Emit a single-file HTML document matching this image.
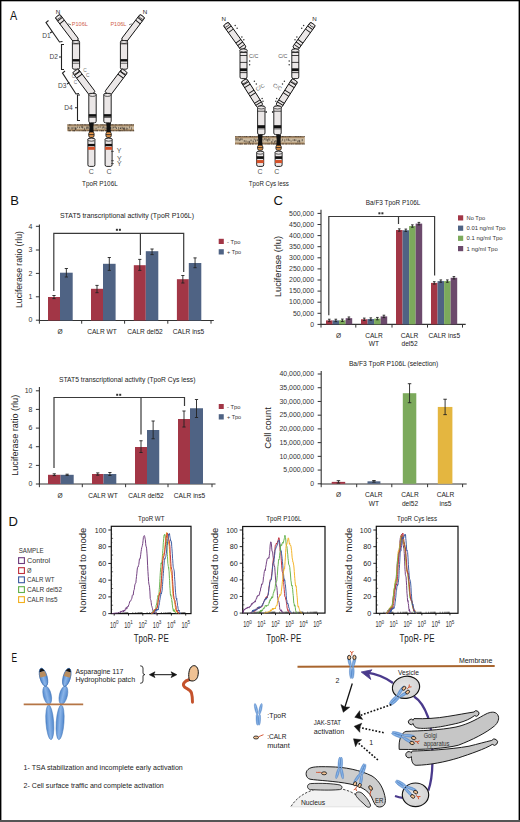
<!DOCTYPE html>
<html><head><meta charset="utf-8"><style>
html,body{margin:0;padding:0;background:#fff;width:520px;height:822px;overflow:hidden}
svg{display:block;font-family:"Liberation Sans",sans-serif}
</style></head><body>
<svg width="520" height="822" viewBox="0 0 520 822" font-family="Liberation Sans, sans-serif">
<rect width="520" height="822" fill="#fff"/>
<text x="10" y="19.8" font-size="13" text-anchor="start" fill="#111" textLength="7.2" lengthAdjust="spacingAndGlyphs" >A</text>
<text x="10.3" y="204.5" font-size="13" text-anchor="start" fill="#111" >B</text>
<text x="273.5" y="204.5" font-size="13" text-anchor="start" fill="#111" >C</text>
<text x="8.5" y="525.7" font-size="13" text-anchor="start" fill="#111" >D</text>
<text x="11.4" y="661.8" font-size="12.6" text-anchor="start" fill="#111" textLength="5.6" lengthAdjust="spacingAndGlyphs" >E</text>
<text x="60" y="217.6" font-size="7.6" text-anchor="start" fill="#222" textLength="134" lengthAdjust="spacingAndGlyphs" >STAT5 transcriptional activity (TpoR P106L)</text>
<line x1="39.4" y1="224.5" x2="39.4" y2="320.5" stroke="#333" stroke-width="1.1" />
<line x1="35.9" y1="320.2" x2="39.4" y2="320.2" stroke="#333" stroke-width="1" />
<text x="32.5" y="322.4" font-size="7" text-anchor="end" fill="#333" >0</text>
<line x1="35.9" y1="296.8" x2="39.4" y2="296.8" stroke="#333" stroke-width="1" />
<text x="32.5" y="299.0" font-size="7" text-anchor="end" fill="#333" >1</text>
<line x1="35.9" y1="273.4" x2="39.4" y2="273.4" stroke="#333" stroke-width="1" />
<text x="32.5" y="275.59999999999997" font-size="7" text-anchor="end" fill="#333" >2</text>
<line x1="35.9" y1="250" x2="39.4" y2="250" stroke="#333" stroke-width="1" />
<text x="32.5" y="252.2" font-size="7" text-anchor="end" fill="#333" >3</text>
<line x1="35.9" y1="226.3" x2="39.4" y2="226.3" stroke="#333" stroke-width="1" />
<text x="32.5" y="228.5" font-size="7" text-anchor="end" fill="#333" >4</text>
<line x1="38.8" y1="320.5" x2="213.8" y2="320.5" stroke="#333" stroke-width="1.1" />
<line x1="39.4" y1="320.5" x2="39.4" y2="323.7" stroke="#333" stroke-width="1" />
<line x1="81.7" y1="320.5" x2="81.7" y2="323.7" stroke="#333" stroke-width="1" />
<line x1="124.6" y1="320.5" x2="124.6" y2="323.7" stroke="#333" stroke-width="1" />
<line x1="167.8" y1="320.5" x2="167.8" y2="323.7" stroke="#333" stroke-width="1" />
<line x1="211" y1="320.5" x2="211" y2="323.7" stroke="#333" stroke-width="1" />
<rect x="48" y="297" width="12" height="23.5" fill="#a23646" />
<line x1="54.0" y1="295.5" x2="54.0" y2="298.6" stroke="#222" stroke-width="0.9" />
<line x1="52.4" y1="295.5" x2="55.6" y2="295.5" stroke="#222" stroke-width="0.9" />
<line x1="52.4" y1="298.6" x2="55.6" y2="298.6" stroke="#222" stroke-width="0.9" />
<rect x="60" y="272.7" width="12.700000000000003" height="47.80000000000001" fill="#4f6384" />
<line x1="66.35" y1="268.5" x2="66.35" y2="277" stroke="#222" stroke-width="0.9" />
<line x1="64.75" y1="268.5" x2="67.94999999999999" y2="268.5" stroke="#222" stroke-width="0.9" />
<line x1="64.75" y1="277" x2="67.94999999999999" y2="277" stroke="#222" stroke-width="0.9" />
<rect x="91" y="288.8" width="12" height="31.69999999999999" fill="#a23646" />
<line x1="97.0" y1="285.4" x2="97.0" y2="292.7" stroke="#222" stroke-width="0.9" />
<line x1="95.4" y1="285.4" x2="98.6" y2="285.4" stroke="#222" stroke-width="0.9" />
<line x1="95.4" y1="292.7" x2="98.6" y2="292.7" stroke="#222" stroke-width="0.9" />
<rect x="103" y="263.8" width="12.599999999999994" height="56.69999999999999" fill="#4f6384" />
<line x1="109.3" y1="257.5" x2="109.3" y2="270.4" stroke="#222" stroke-width="0.9" />
<line x1="107.7" y1="257.5" x2="110.89999999999999" y2="257.5" stroke="#222" stroke-width="0.9" />
<line x1="107.7" y1="270.4" x2="110.89999999999999" y2="270.4" stroke="#222" stroke-width="0.9" />
<rect x="133.8" y="265.2" width="12.0" height="55.30000000000001" fill="#a23646" />
<line x1="139.8" y1="259.4" x2="139.8" y2="270.4" stroke="#222" stroke-width="0.9" />
<line x1="138.20000000000002" y1="259.4" x2="141.4" y2="259.4" stroke="#222" stroke-width="0.9" />
<line x1="138.20000000000002" y1="270.4" x2="141.4" y2="270.4" stroke="#222" stroke-width="0.9" />
<rect x="145.8" y="251.2" width="12.5" height="69.30000000000001" fill="#4f6384" />
<line x1="152.05" y1="249" x2="152.05" y2="254.6" stroke="#222" stroke-width="0.9" />
<line x1="150.45000000000002" y1="249" x2="153.65" y2="249" stroke="#222" stroke-width="0.9" />
<line x1="150.45000000000002" y1="254.6" x2="153.65" y2="254.6" stroke="#222" stroke-width="0.9" />
<rect x="176.9" y="279.2" width="11.900000000000006" height="41.30000000000001" fill="#a23646" />
<line x1="182.85000000000002" y1="275.5" x2="182.85000000000002" y2="283" stroke="#222" stroke-width="0.9" />
<line x1="181.25000000000003" y1="275.5" x2="184.45000000000002" y2="275.5" stroke="#222" stroke-width="0.9" />
<line x1="181.25000000000003" y1="283" x2="184.45000000000002" y2="283" stroke="#222" stroke-width="0.9" />
<rect x="188.8" y="263" width="12.5" height="57.5" fill="#4f6384" />
<line x1="195.05" y1="257.9" x2="195.05" y2="267.7" stroke="#222" stroke-width="0.9" />
<line x1="193.45000000000002" y1="257.9" x2="196.65" y2="257.9" stroke="#222" stroke-width="0.9" />
<line x1="193.45000000000002" y1="267.7" x2="196.65" y2="267.7" stroke="#222" stroke-width="0.9" />
<path d="M53.8 291 V233.3 H183.7 V272 M140.4 233.3 V255" fill="none" stroke="#3a3a3a" stroke-width="1.2"/>
<rect x="115.9" y="228.8" width="2" height="2" fill="#333" />
<rect x="118.9" y="228.8" width="2" height="2" fill="#333" />
<text x="60" y="333.5" font-size="6.6" text-anchor="middle" fill="#222" >Ø</text>
<text x="102" y="333.5" font-size="6.6" text-anchor="middle" fill="#222" >CALR WT</text>
<text x="145" y="333.5" font-size="6.6" text-anchor="middle" fill="#222" >CALR del52</text>
<text x="188.5" y="333.5" font-size="6.6" text-anchor="middle" fill="#222" >CALR ins5</text>
<rect x="218.7" y="238.8" width="5.1" height="5.2" fill="#a23646" />
<rect x="218.7" y="249.2" width="5.1" height="5.3" fill="#4f6384" />
<text x="227" y="243.9" font-size="6.2" text-anchor="start" fill="#333" textLength="13.4" lengthAdjust="spacingAndGlyphs" >- Tpo</text>
<text x="227" y="254.2" font-size="6.2" text-anchor="start" fill="#333" textLength="14.2" lengthAdjust="spacingAndGlyphs" >+ Tpo</text>
<text transform="translate(22.3,269.5) rotate(-90)" font-size="9" text-anchor="middle" fill="#222" textLength="77" lengthAdjust="spacingAndGlyphs">Luciferase ratio (rlu)</text>
<text x="59" y="382" font-size="7.6" text-anchor="start" fill="#222" textLength="136.5" lengthAdjust="spacingAndGlyphs" >STAT5 transcriptional activity (TpoR Cys less)</text>
<line x1="39.4" y1="387" x2="39.4" y2="484" stroke="#333" stroke-width="1.1" />
<line x1="35.9" y1="484" x2="39.4" y2="484" stroke="#333" stroke-width="1" />
<text x="32.5" y="486.2" font-size="7" text-anchor="end" fill="#333" >0</text>
<line x1="35.9" y1="465.4" x2="39.4" y2="465.4" stroke="#333" stroke-width="1" />
<text x="32.5" y="467.59999999999997" font-size="7" text-anchor="end" fill="#333" >2</text>
<line x1="35.9" y1="446.7" x2="39.4" y2="446.7" stroke="#333" stroke-width="1" />
<text x="32.5" y="448.9" font-size="7" text-anchor="end" fill="#333" >4</text>
<line x1="35.9" y1="428.1" x2="39.4" y2="428.1" stroke="#333" stroke-width="1" />
<text x="32.5" y="430.3" font-size="7" text-anchor="end" fill="#333" >6</text>
<line x1="35.9" y1="409.4" x2="39.4" y2="409.4" stroke="#333" stroke-width="1" />
<text x="32.5" y="411.59999999999997" font-size="7" text-anchor="end" fill="#333" >8</text>
<line x1="35.9" y1="390.8" x2="39.4" y2="390.8" stroke="#333" stroke-width="1" />
<text x="32.5" y="393.0" font-size="7" text-anchor="end" fill="#333" >10</text>
<line x1="38.8" y1="484" x2="215.5" y2="484" stroke="#333" stroke-width="1.1" />
<line x1="39.4" y1="484" x2="39.4" y2="487.2" stroke="#333" stroke-width="1" />
<line x1="82.3" y1="484" x2="82.3" y2="487.2" stroke="#333" stroke-width="1" />
<line x1="125.6" y1="484" x2="125.6" y2="487.2" stroke="#333" stroke-width="1" />
<line x1="168" y1="484" x2="168" y2="487.2" stroke="#333" stroke-width="1" />
<line x1="212" y1="484" x2="212" y2="487.2" stroke="#333" stroke-width="1" />
<rect x="48" y="474.8" width="12.600000000000001" height="9.199999999999989" fill="#a23646" />
<line x1="54.3" y1="473.8" x2="54.3" y2="475.6" stroke="#222" stroke-width="0.9" />
<line x1="52.699999999999996" y1="473.8" x2="55.9" y2="473.8" stroke="#222" stroke-width="0.9" />
<line x1="52.699999999999996" y1="475.6" x2="55.9" y2="475.6" stroke="#222" stroke-width="0.9" />
<rect x="60.6" y="474.8" width="13.100000000000001" height="9.199999999999989" fill="#4f6384" />
<line x1="67.15" y1="474.2" x2="67.15" y2="475.4" stroke="#222" stroke-width="0.9" />
<line x1="65.55000000000001" y1="474.2" x2="68.75" y2="474.2" stroke="#222" stroke-width="0.9" />
<line x1="65.55000000000001" y1="475.4" x2="68.75" y2="475.4" stroke="#222" stroke-width="0.9" />
<rect x="92" y="474" width="11.5" height="10" fill="#a23646" />
<line x1="97.75" y1="472.9" x2="97.75" y2="475.2" stroke="#222" stroke-width="0.9" />
<line x1="96.15" y1="472.9" x2="99.35" y2="472.9" stroke="#222" stroke-width="0.9" />
<line x1="96.15" y1="475.2" x2="99.35" y2="475.2" stroke="#222" stroke-width="0.9" />
<rect x="103.5" y="474" width="12.799999999999997" height="10" fill="#4f6384" />
<line x1="109.9" y1="472.5" x2="109.9" y2="475.5" stroke="#222" stroke-width="0.9" />
<line x1="108.30000000000001" y1="472.5" x2="111.5" y2="472.5" stroke="#222" stroke-width="0.9" />
<line x1="108.30000000000001" y1="475.5" x2="111.5" y2="475.5" stroke="#222" stroke-width="0.9" />
<rect x="135" y="447" width="12" height="37" fill="#a23646" />
<line x1="141.0" y1="440.75" x2="141.0" y2="452.5" stroke="#222" stroke-width="0.9" />
<line x1="139.4" y1="440.75" x2="142.6" y2="440.75" stroke="#222" stroke-width="0.9" />
<line x1="139.4" y1="452.5" x2="142.6" y2="452.5" stroke="#222" stroke-width="0.9" />
<rect x="147" y="430" width="12.25" height="54" fill="#4f6384" />
<line x1="153.125" y1="421" x2="153.125" y2="438.75" stroke="#222" stroke-width="0.9" />
<line x1="151.525" y1="421" x2="154.725" y2="421" stroke="#222" stroke-width="0.9" />
<line x1="151.525" y1="438.75" x2="154.725" y2="438.75" stroke="#222" stroke-width="0.9" />
<rect x="178" y="419" width="12" height="65" fill="#a23646" />
<line x1="184.0" y1="411" x2="184.0" y2="427" stroke="#222" stroke-width="0.9" />
<line x1="182.4" y1="411" x2="185.6" y2="411" stroke="#222" stroke-width="0.9" />
<line x1="182.4" y1="427" x2="185.6" y2="427" stroke="#222" stroke-width="0.9" />
<rect x="190" y="408.25" width="13" height="75.75" fill="#4f6384" />
<line x1="196.5" y1="399.5" x2="196.5" y2="417.5" stroke="#222" stroke-width="0.9" />
<line x1="194.9" y1="399.5" x2="198.1" y2="399.5" stroke="#222" stroke-width="0.9" />
<line x1="194.9" y1="417.5" x2="198.1" y2="417.5" stroke="#222" stroke-width="0.9" />
<path d="M54 468 V397.5 H184.5 V406 M141 397.5 V434.5" fill="none" stroke="#3a3a3a" stroke-width="1.2"/>
<rect x="116.2" y="393.8" width="2" height="2" fill="#333" />
<rect x="119.2" y="393.8" width="2" height="2" fill="#333" />
<text x="60" y="497.5" font-size="6.6" text-anchor="middle" fill="#222" >Ø</text>
<text x="103" y="497.5" font-size="6.6" text-anchor="middle" fill="#222" >CALR WT</text>
<text x="146" y="497.5" font-size="6.6" text-anchor="middle" fill="#222" >CALR del52</text>
<text x="189.5" y="497.5" font-size="6.6" text-anchor="middle" fill="#222" >CALR ins5</text>
<rect x="218.75" y="404" width="5" height="5" fill="#a23646" />
<rect x="218.75" y="414.2" width="5" height="5.3" fill="#4f6384" />
<text x="227" y="409" font-size="6.2" text-anchor="start" fill="#333" textLength="13.4" lengthAdjust="spacingAndGlyphs" >- Tpo</text>
<text x="227" y="419.3" font-size="6.2" text-anchor="start" fill="#333" textLength="14.2" lengthAdjust="spacingAndGlyphs" >+ Tpo</text>
<text transform="translate(18.4,435.3) rotate(-90)" font-size="9.4" text-anchor="middle" fill="#222" textLength="81" lengthAdjust="spacingAndGlyphs">Luciferase ratio (rlu)</text>
<text x="365.8" y="204.5" font-size="6.8" text-anchor="start" fill="#222" textLength="54.6" lengthAdjust="spacingAndGlyphs" >Ba/F3 TpoR P106L</text>
<line x1="321" y1="209.8" x2="321" y2="324.4" stroke="#333" stroke-width="1.1" />
<line x1="317.5" y1="324.4" x2="321" y2="324.4" stroke="#333" stroke-width="1" />
<text x="314" y="326.59999999999997" font-size="6.9" text-anchor="end" fill="#333" >0</text>
<line x1="317.5" y1="313.29999999999995" x2="321" y2="313.29999999999995" stroke="#333" stroke-width="1" />
<text x="314" y="315.49999999999994" font-size="6.9" text-anchor="end" fill="#333" >50,000</text>
<line x1="317.5" y1="302.2" x2="321" y2="302.2" stroke="#333" stroke-width="1" />
<text x="314" y="304.4" font-size="6.9" text-anchor="end" fill="#333" >100,000</text>
<line x1="317.5" y1="291.09999999999997" x2="321" y2="291.09999999999997" stroke="#333" stroke-width="1" />
<text x="314" y="293.29999999999995" font-size="6.9" text-anchor="end" fill="#333" >150,000</text>
<line x1="317.5" y1="280.0" x2="321" y2="280.0" stroke="#333" stroke-width="1" />
<text x="314" y="282.2" font-size="6.9" text-anchor="end" fill="#333" >200,000</text>
<line x1="317.5" y1="268.9" x2="321" y2="268.9" stroke="#333" stroke-width="1" />
<text x="314" y="271.09999999999997" font-size="6.9" text-anchor="end" fill="#333" >250,000</text>
<line x1="317.5" y1="257.79999999999995" x2="321" y2="257.79999999999995" stroke="#333" stroke-width="1" />
<text x="314" y="259.99999999999994" font-size="6.9" text-anchor="end" fill="#333" >300,000</text>
<line x1="317.5" y1="246.7" x2="321" y2="246.7" stroke="#333" stroke-width="1" />
<text x="314" y="248.89999999999998" font-size="6.9" text-anchor="end" fill="#333" >350,000</text>
<line x1="317.5" y1="235.59999999999997" x2="321" y2="235.59999999999997" stroke="#333" stroke-width="1" />
<text x="314" y="237.79999999999995" font-size="6.9" text-anchor="end" fill="#333" >400,000</text>
<line x1="317.5" y1="224.49999999999997" x2="321" y2="224.49999999999997" stroke="#333" stroke-width="1" />
<text x="314" y="226.69999999999996" font-size="6.9" text-anchor="end" fill="#333" >450,000</text>
<line x1="317.5" y1="213.39999999999998" x2="321" y2="213.39999999999998" stroke="#333" stroke-width="1" />
<text x="314" y="215.59999999999997" font-size="6.9" text-anchor="end" fill="#333" >500,000</text>
<line x1="320.5" y1="324.4" x2="465.7" y2="324.4" stroke="#333" stroke-width="1.1" />
<line x1="321" y1="324.4" x2="321" y2="327.59999999999997" stroke="#333" stroke-width="1" />
<line x1="355.8" y1="324.4" x2="355.8" y2="327.59999999999997" stroke="#333" stroke-width="1" />
<line x1="392" y1="324.4" x2="392" y2="327.59999999999997" stroke="#333" stroke-width="1" />
<line x1="427.5" y1="324.4" x2="427.5" y2="327.59999999999997" stroke="#333" stroke-width="1" />
<line x1="462.5" y1="324.4" x2="462.5" y2="327.59999999999997" stroke="#333" stroke-width="1" />
<rect x="326.0" y="320.404" width="6.55" height="3.995999999999981" fill="#a23646" />
<line x1="329.27" y1="319.204" x2="329.27" y2="321.604" stroke="#222" stroke-width="0.9" />
<line x1="327.96999999999997" y1="319.204" x2="330.57" y2="319.204" stroke="#222" stroke-width="0.9" />
<line x1="327.96999999999997" y1="321.604" x2="330.57" y2="321.604" stroke="#222" stroke-width="0.9" />
<rect x="332.55" y="320.404" width="6.55" height="3.995999999999981" fill="#4f6384" />
<line x1="335.82" y1="319.204" x2="335.82" y2="321.604" stroke="#222" stroke-width="0.9" />
<line x1="334.52" y1="319.204" x2="337.12" y2="319.204" stroke="#222" stroke-width="0.9" />
<line x1="334.52" y1="321.604" x2="337.12" y2="321.604" stroke="#222" stroke-width="0.9" />
<rect x="339.1" y="320.29299999999995" width="6.55" height="4.107000000000028" fill="#7caa5c" />
<line x1="342.37" y1="319.09299999999996" x2="342.37" y2="321.49299999999994" stroke="#222" stroke-width="0.9" />
<line x1="341.07" y1="319.09299999999996" x2="343.67" y2="319.09299999999996" stroke="#222" stroke-width="0.9" />
<line x1="341.07" y1="321.49299999999994" x2="343.67" y2="321.49299999999994" stroke="#222" stroke-width="0.9" />
<rect x="345.65" y="318.18399999999997" width="6.55" height="6.216000000000008" fill="#6c4a6c" />
<line x1="348.91999999999996" y1="316.984" x2="348.91999999999996" y2="319.38399999999996" stroke="#222" stroke-width="0.9" />
<line x1="347.61999999999995" y1="316.984" x2="350.21999999999997" y2="316.984" stroke="#222" stroke-width="0.9" />
<line x1="347.61999999999995" y1="319.38399999999996" x2="350.21999999999997" y2="319.38399999999996" stroke="#222" stroke-width="0.9" />
<rect x="361.0" y="319.294" width="6.55" height="5.1059999999999945" fill="#a23646" />
<line x1="364.27" y1="318.094" x2="364.27" y2="320.49399999999997" stroke="#222" stroke-width="0.9" />
<line x1="362.96999999999997" y1="318.094" x2="365.57" y2="318.094" stroke="#222" stroke-width="0.9" />
<line x1="362.96999999999997" y1="320.49399999999997" x2="365.57" y2="320.49399999999997" stroke="#222" stroke-width="0.9" />
<rect x="367.55" y="319.072" width="6.55" height="5.3279999999999745" fill="#4f6384" />
<line x1="370.82" y1="317.872" x2="370.82" y2="320.272" stroke="#222" stroke-width="0.9" />
<line x1="369.52" y1="317.872" x2="372.12" y2="317.872" stroke="#222" stroke-width="0.9" />
<line x1="369.52" y1="320.272" x2="372.12" y2="320.272" stroke="#222" stroke-width="0.9" />
<rect x="374.1" y="318.628" width="6.55" height="5.771999999999991" fill="#7caa5c" />
<line x1="377.37" y1="317.428" x2="377.37" y2="319.828" stroke="#222" stroke-width="0.9" />
<line x1="376.07" y1="317.428" x2="378.67" y2="317.428" stroke="#222" stroke-width="0.9" />
<line x1="376.07" y1="319.828" x2="378.67" y2="319.828" stroke="#222" stroke-width="0.9" />
<rect x="380.65" y="316.40799999999996" width="6.55" height="7.992000000000019" fill="#6c4a6c" />
<line x1="383.91999999999996" y1="315.20799999999997" x2="383.91999999999996" y2="317.60799999999995" stroke="#222" stroke-width="0.9" />
<line x1="382.61999999999995" y1="315.20799999999997" x2="385.21999999999997" y2="315.20799999999997" stroke="#222" stroke-width="0.9" />
<line x1="382.61999999999995" y1="317.60799999999995" x2="385.21999999999997" y2="317.60799999999995" stroke="#222" stroke-width="0.9" />
<rect x="396.0" y="230.04999999999998" width="6.55" height="94.35" fill="#a23646" />
<line x1="399.27" y1="228.85" x2="399.27" y2="231.24999999999997" stroke="#222" stroke-width="0.9" />
<line x1="397.96999999999997" y1="228.85" x2="400.57" y2="228.85" stroke="#222" stroke-width="0.9" />
<line x1="397.96999999999997" y1="231.24999999999997" x2="400.57" y2="231.24999999999997" stroke="#222" stroke-width="0.9" />
<rect x="402.55" y="230.272" width="6.55" height="94.12799999999999" fill="#4f6384" />
<line x1="405.82" y1="229.072" x2="405.82" y2="231.47199999999998" stroke="#222" stroke-width="0.9" />
<line x1="404.52" y1="229.072" x2="407.12" y2="229.072" stroke="#222" stroke-width="0.9" />
<line x1="404.52" y1="231.47199999999998" x2="407.12" y2="231.47199999999998" stroke="#222" stroke-width="0.9" />
<rect x="409.1" y="226.05399999999997" width="6.55" height="98.346" fill="#7caa5c" />
<line x1="412.37" y1="224.85399999999998" x2="412.37" y2="227.25399999999996" stroke="#222" stroke-width="0.9" />
<line x1="411.07" y1="224.85399999999998" x2="413.67" y2="224.85399999999998" stroke="#222" stroke-width="0.9" />
<line x1="411.07" y1="227.25399999999996" x2="413.67" y2="227.25399999999996" stroke="#222" stroke-width="0.9" />
<rect x="415.65" y="223.61199999999997" width="6.55" height="100.78800000000001" fill="#6c4a6c" />
<line x1="418.91999999999996" y1="222.40254399999998" x2="418.91999999999996" y2="224.82145599999996" stroke="#222" stroke-width="0.9" />
<line x1="417.61999999999995" y1="222.40254399999998" x2="420.21999999999997" y2="222.40254399999998" stroke="#222" stroke-width="0.9" />
<line x1="417.61999999999995" y1="224.82145599999996" x2="420.21999999999997" y2="224.82145599999996" stroke="#222" stroke-width="0.9" />
<rect x="431.0" y="282.88599999999997" width="6.55" height="41.51400000000001" fill="#a23646" />
<line x1="434.27" y1="281.686" x2="434.27" y2="284.08599999999996" stroke="#222" stroke-width="0.9" />
<line x1="432.96999999999997" y1="281.686" x2="435.57" y2="281.686" stroke="#222" stroke-width="0.9" />
<line x1="432.96999999999997" y1="284.08599999999996" x2="435.57" y2="284.08599999999996" stroke="#222" stroke-width="0.9" />
<rect x="437.55" y="281.10999999999996" width="6.55" height="43.29000000000002" fill="#4f6384" />
<line x1="440.82" y1="279.90999999999997" x2="440.82" y2="282.30999999999995" stroke="#222" stroke-width="0.9" />
<line x1="439.52" y1="279.90999999999997" x2="442.12" y2="279.90999999999997" stroke="#222" stroke-width="0.9" />
<line x1="439.52" y1="282.30999999999995" x2="442.12" y2="282.30999999999995" stroke="#222" stroke-width="0.9" />
<rect x="444.1" y="281.10999999999996" width="6.55" height="43.29000000000002" fill="#7caa5c" />
<line x1="447.37" y1="279.90999999999997" x2="447.37" y2="282.30999999999995" stroke="#222" stroke-width="0.9" />
<line x1="446.07" y1="279.90999999999997" x2="448.67" y2="279.90999999999997" stroke="#222" stroke-width="0.9" />
<line x1="446.07" y1="282.30999999999995" x2="448.67" y2="282.30999999999995" stroke="#222" stroke-width="0.9" />
<rect x="450.65" y="277.78" width="6.55" height="46.620000000000005" fill="#6c4a6c" />
<line x1="453.91999999999996" y1="276.58" x2="453.91999999999996" y2="278.97999999999996" stroke="#222" stroke-width="0.9" />
<line x1="452.61999999999995" y1="276.58" x2="455.21999999999997" y2="276.58" stroke="#222" stroke-width="0.9" />
<line x1="452.61999999999995" y1="278.97999999999996" x2="455.21999999999997" y2="278.97999999999996" stroke="#222" stroke-width="0.9" />
<path d="M328.8 315.2 V216.5 H434.6 V275.6 M398.5 216.5 V224" fill="none" stroke="#3a3a3a" stroke-width="1.2"/>
<rect x="378.4" y="212.3" width="2" height="2" fill="#333" />
<rect x="381.4" y="212.3" width="2" height="2" fill="#333" />
<text x="338.5" y="338" font-size="6.6" text-anchor="middle" fill="#222" >Ø</text>
<text x="374" y="338" font-size="6.6" text-anchor="middle" fill="#222" >CALR</text>
<text x="374" y="346.3" font-size="6.6" text-anchor="middle" fill="#222" >WT</text>
<text x="409.6" y="338" font-size="6.6" text-anchor="middle" fill="#222" >CALR</text>
<text x="409.6" y="346.3" font-size="6.6" text-anchor="middle" fill="#222" >del52</text>
<text x="444.3" y="338" font-size="6.6" text-anchor="middle" fill="#222" >CALR ins5</text>
<rect x="458" y="215.3" width="5.2" height="5.2" fill="#a23646" />
<text x="466.6" y="220.0" font-size="6.1" text-anchor="start" fill="#333" textLength="18.5" lengthAdjust="spacingAndGlyphs" >No Tpo</text>
<rect x="458" y="225.6" width="5.2" height="5.2" fill="#4f6384" />
<text x="466.6" y="230.29999999999998" font-size="6.1" text-anchor="start" fill="#333" textLength="38.9" lengthAdjust="spacingAndGlyphs" >0.01 ng/ml Tpo</text>
<rect x="458" y="235.7" width="5.2" height="5.2" fill="#7caa5c" />
<text x="466.6" y="240.39999999999998" font-size="6.1" text-anchor="start" fill="#333" textLength="36" lengthAdjust="spacingAndGlyphs" >0.1 ng/ml Tpo</text>
<rect x="458" y="246" width="5.2" height="5.2" fill="#6c4a6c" />
<text x="466.6" y="250.7" font-size="6.1" text-anchor="start" fill="#333" textLength="31.1" lengthAdjust="spacingAndGlyphs" >1 ng/ml Tpo</text>
<text transform="translate(281.2,266.5) rotate(-90)" font-size="9" text-anchor="middle" fill="#222" textLength="61" lengthAdjust="spacingAndGlyphs">Luciferase (rlu)</text>
<text x="348.9" y="365.5" font-size="7.1" text-anchor="start" fill="#222" textLength="89.4" lengthAdjust="spacingAndGlyphs" >Ba/F3 TpoR P106L (selection)</text>
<line x1="321.2" y1="371" x2="321.2" y2="484" stroke="#333" stroke-width="1.1" />
<line x1="317.7" y1="483.8" x2="321.2" y2="483.8" stroke="#333" stroke-width="1" />
<text x="314" y="486.0" font-size="6.9" text-anchor="end" fill="#333" >0</text>
<line x1="317.7" y1="470.075" x2="321.2" y2="470.075" stroke="#333" stroke-width="1" />
<text x="314" y="472.275" font-size="6.9" text-anchor="end" fill="#333" >5,000,000</text>
<line x1="317.7" y1="456.35" x2="321.2" y2="456.35" stroke="#333" stroke-width="1" />
<text x="314" y="458.55" font-size="6.9" text-anchor="end" fill="#333" >10,000,000</text>
<line x1="317.7" y1="442.625" x2="321.2" y2="442.625" stroke="#333" stroke-width="1" />
<text x="314" y="444.825" font-size="6.9" text-anchor="end" fill="#333" >15,000,000</text>
<line x1="317.7" y1="428.90000000000003" x2="321.2" y2="428.90000000000003" stroke="#333" stroke-width="1" />
<text x="314" y="431.1" font-size="6.9" text-anchor="end" fill="#333" >20,000,000</text>
<line x1="317.7" y1="415.175" x2="321.2" y2="415.175" stroke="#333" stroke-width="1" />
<text x="314" y="417.375" font-size="6.9" text-anchor="end" fill="#333" >25,000,000</text>
<line x1="317.7" y1="401.45000000000005" x2="321.2" y2="401.45000000000005" stroke="#333" stroke-width="1" />
<text x="314" y="403.65000000000003" font-size="6.9" text-anchor="end" fill="#333" >30,000,000</text>
<line x1="317.7" y1="387.725" x2="321.2" y2="387.725" stroke="#333" stroke-width="1" />
<text x="314" y="389.925" font-size="6.9" text-anchor="end" fill="#333" >35,000,000</text>
<line x1="317.7" y1="374.0" x2="321.2" y2="374.0" stroke="#333" stroke-width="1" />
<text x="314" y="376.2" font-size="6.9" text-anchor="end" fill="#333" >40,000,000</text>
<line x1="320.7" y1="484" x2="466.7" y2="484" stroke="#333" stroke-width="1.1" />
<line x1="321.2" y1="484" x2="321.2" y2="487.2" stroke="#333" stroke-width="1" />
<line x1="356.7" y1="484" x2="356.7" y2="487.2" stroke="#333" stroke-width="1" />
<line x1="391.8" y1="484" x2="391.8" y2="487.2" stroke="#333" stroke-width="1" />
<line x1="427.6" y1="484" x2="427.6" y2="487.2" stroke="#333" stroke-width="1" />
<line x1="462.6" y1="484" x2="462.6" y2="487.2" stroke="#333" stroke-width="1" />
<rect x="331.7" y="481.87850000000003" width="13.5" height="1.9214999999999804" fill="#a23646" />
<line x1="338.45" y1="480.67850000000004" x2="338.45" y2="483.0785" stroke="#222" stroke-width="0.9" />
<line x1="336.7" y1="480.67850000000004" x2="340.2" y2="480.67850000000004" stroke="#222" stroke-width="0.9" />
<line x1="336.7" y1="483.0785" x2="340.2" y2="483.0785" stroke="#222" stroke-width="0.9" />
<rect x="367.5" y="481.3295" width="12.899999999999977" height="2.4705000000000155" fill="#4f6384" />
<line x1="373.95" y1="480.5295" x2="373.95" y2="482.1295" stroke="#222" stroke-width="0.9" />
<line x1="372.2" y1="480.5295" x2="375.7" y2="480.5295" stroke="#222" stroke-width="0.9" />
<line x1="372.2" y1="482.1295" x2="375.7" y2="482.1295" stroke="#222" stroke-width="0.9" />
<rect x="402.8" y="393.21500000000003" width="13.5" height="90.58499999999998" fill="#7caa5c" />
<line x1="409.55" y1="383.71500000000003" x2="409.55" y2="402.71500000000003" stroke="#222" stroke-width="0.9" />
<line x1="407.8" y1="383.71500000000003" x2="411.3" y2="383.71500000000003" stroke="#222" stroke-width="0.9" />
<line x1="407.8" y1="402.71500000000003" x2="411.3" y2="402.71500000000003" stroke="#222" stroke-width="0.9" />
<rect x="437.8" y="406.94" width="14.599999999999966" height="76.86000000000001" fill="#e4b640" />
<line x1="445.1" y1="399.24" x2="445.1" y2="414.64" stroke="#222" stroke-width="0.9" />
<line x1="443.35" y1="399.24" x2="446.85" y2="399.24" stroke="#222" stroke-width="0.9" />
<line x1="443.35" y1="414.64" x2="446.85" y2="414.64" stroke="#222" stroke-width="0.9" />
<text x="338.5" y="497.3" font-size="6.6" text-anchor="middle" fill="#222" >Ø</text>
<text x="373.8" y="497.3" font-size="6.6" text-anchor="middle" fill="#222" >CALR</text>
<text x="373.8" y="506.2" font-size="6.6" text-anchor="middle" fill="#222" >WT</text>
<text x="410" y="497.3" font-size="6.6" text-anchor="middle" fill="#222" >CALR</text>
<text x="410" y="506.2" font-size="6.6" text-anchor="middle" fill="#222" >del52</text>
<text x="445.5" y="497.3" font-size="6.6" text-anchor="middle" fill="#222" >CALR</text>
<text x="445.5" y="506.2" font-size="6.6" text-anchor="middle" fill="#222" >ins5</text>
<text transform="translate(271.3,428) rotate(-90)" font-size="9.8" text-anchor="middle" fill="#222" textLength="41.6" lengthAdjust="spacingAndGlyphs">Cell count</text>
<g transform="translate(57.50,16.00) rotate(52.77)"><rect x="0" y="-2.95" width="31.40" height="5.9" rx="1.6" fill="#ebe7e7" stroke="#000" stroke-width="0.85"/><ellipse cx="1.5" cy="0" rx="1.5" ry="2.95" fill="#ebe7e7" stroke="#111" stroke-width="0.7"/><rect x="3.63" y="-2.95" width="0.9" height="5.9" fill="#111"/><rect x="7.09" y="-2.95" width="0.9" height="5.9" fill="#111"/></g>
<g transform="translate(76.00,40.50) rotate(90.00)"><rect x="0" y="-3.6" width="28.70" height="7.2" rx="1.6" fill="#ebe7e7" stroke="#000" stroke-width="0.85"/><ellipse cx="1.5" cy="0" rx="1.5" ry="3.6" fill="#ebe7e7" stroke="#111" stroke-width="0.7"/><rect x="3.14" y="-3.6" width="0.6" height="7.2" fill="#111"/><rect x="18.60" y="-3.6" width="2.4" height="7.2" fill="#111"/><rect x="22.37" y="-3.6" width="0.6" height="7.2" fill="#111"/></g>
<g transform="translate(75.20,70.60) rotate(53.13)"><rect x="0" y="-3.4" width="29.00" height="6.8" rx="1.6" fill="#ebe7e7" stroke="#000" stroke-width="0.85"/><ellipse cx="1.5" cy="0" rx="1.5" ry="3.4" fill="#ebe7e7" stroke="#111" stroke-width="0.7"/><rect x="2.98" y="-3.4" width="1.0" height="6.8" fill="#111"/><rect x="6.46" y="-3.4" width="1.0" height="6.8" fill="#111"/></g>
<g transform="translate(92.50,93.40) rotate(90.00)"><rect x="0" y="-3.7" width="29.40" height="7.4" rx="1.6" fill="#ebe7e7" stroke="#000" stroke-width="0.85"/><ellipse cx="1.5" cy="0" rx="1.5" ry="3.7" fill="#ebe7e7" stroke="#111" stroke-width="0.7"/><rect x="20.75" y="-3.7" width="2.6" height="7.4" fill="#111"/><rect x="23.81" y="-3.7" width="0.6" height="7.4" fill="#111"/></g>
<g transform="translate(142.50,16.00) rotate(127.23)"><rect x="0" y="-2.95" width="31.40" height="5.9" rx="1.6" fill="#ebe7e7" stroke="#000" stroke-width="0.85"/><ellipse cx="1.5" cy="0" rx="1.5" ry="2.95" fill="#ebe7e7" stroke="#111" stroke-width="0.7"/><rect x="3.63" y="-2.95" width="0.9" height="5.9" fill="#111"/><rect x="7.09" y="-2.95" width="0.9" height="5.9" fill="#111"/></g>
<g transform="translate(124.00,40.50) rotate(90.00)"><rect x="0" y="-3.6" width="28.70" height="7.2" rx="1.6" fill="#ebe7e7" stroke="#000" stroke-width="0.85"/><ellipse cx="1.5" cy="0" rx="1.5" ry="3.6" fill="#ebe7e7" stroke="#111" stroke-width="0.7"/><rect x="3.14" y="-3.6" width="0.6" height="7.2" fill="#111"/><rect x="18.60" y="-3.6" width="2.4" height="7.2" fill="#111"/><rect x="22.37" y="-3.6" width="0.6" height="7.2" fill="#111"/></g>
<g transform="translate(124.80,70.60) rotate(126.87)"><rect x="0" y="-3.4" width="29.00" height="6.8" rx="1.6" fill="#ebe7e7" stroke="#000" stroke-width="0.85"/><ellipse cx="1.5" cy="0" rx="1.5" ry="3.4" fill="#ebe7e7" stroke="#111" stroke-width="0.7"/><rect x="2.98" y="-3.4" width="1.0" height="6.8" fill="#111"/><rect x="6.46" y="-3.4" width="1.0" height="6.8" fill="#111"/></g>
<g transform="translate(107.50,93.40) rotate(90.00)"><rect x="0" y="-3.7" width="29.40" height="7.4" rx="1.6" fill="#ebe7e7" stroke="#000" stroke-width="0.85"/><ellipse cx="1.5" cy="0" rx="1.5" ry="3.7" fill="#ebe7e7" stroke="#111" stroke-width="0.7"/><rect x="20.75" y="-3.7" width="2.6" height="7.4" fill="#111"/><rect x="23.81" y="-3.7" width="0.6" height="7.4" fill="#111"/></g>
<rect x="67.3" y="124.4" width="66.7" height="6.799999999999983" fill="#b0906a"/>
<rect x="67.3" y="126.4" width="66.7" height="2.799999999999983" fill="#cbbba2"/>
<rect x="67.6" y="124.4" width="0.9" height="0.9" fill="#2e2620" opacity="0.87"/><rect x="68.4" y="130.3" width="1.1" height="0.9" fill="#2e2620" opacity="0.93"/><rect x="68.9" y="124.4" width="1.3" height="0.9" fill="#2e2620" opacity="0.92"/><rect x="69.0" y="130.3" width="0.8" height="0.9" fill="#2e2620" opacity="0.66"/><rect x="69.9" y="124.4" width="1.2" height="0.9" fill="#2e2620" opacity="0.64"/><rect x="70.0" y="130.3" width="1.0" height="0.9" fill="#2e2620" opacity="0.74"/><rect x="71.4" y="124.4" width="0.8" height="0.9" fill="#2e2620" opacity="0.83"/><rect x="72.1" y="130.3" width="1.4" height="0.9" fill="#2e2620" opacity="0.66"/><rect x="72.5" y="124.4" width="1.1" height="0.9" fill="#2e2620" opacity="0.60"/><rect x="73.3" y="130.3" width="1.4" height="0.9" fill="#2e2620" opacity="0.88"/><rect x="73.9" y="124.4" width="1.6" height="0.9" fill="#2e2620" opacity="0.74"/><rect x="73.9" y="130.3" width="1.1" height="0.9" fill="#2e2620" opacity="0.75"/><rect x="75.4" y="124.4" width="0.8" height="0.9" fill="#2e2620" opacity="0.90"/><rect x="75.7" y="130.3" width="0.8" height="0.9" fill="#2e2620" opacity="0.81"/><rect x="76.9" y="124.4" width="1.3" height="0.9" fill="#2e2620" opacity="0.86"/><rect x="77.2" y="130.3" width="1.1" height="0.9" fill="#2e2620" opacity="0.61"/><rect x="78.4" y="124.4" width="1.3" height="0.9" fill="#2e2620" opacity="0.65"/><rect x="78.6" y="130.3" width="1.2" height="0.9" fill="#2e2620" opacity="0.84"/><rect x="80.0" y="124.4" width="1.1" height="0.9" fill="#2e2620" opacity="0.79"/><rect x="80.6" y="130.3" width="0.9" height="0.9" fill="#2e2620" opacity="0.94"/><rect x="81.2" y="124.4" width="1.6" height="0.9" fill="#2e2620" opacity="0.91"/><rect x="81.9" y="130.3" width="0.9" height="0.9" fill="#2e2620" opacity="0.76"/><rect x="82.5" y="124.4" width="1.1" height="0.9" fill="#2e2620" opacity="0.77"/><rect x="82.8" y="130.3" width="1.3" height="0.9" fill="#2e2620" opacity="0.85"/><rect x="83.9" y="124.4" width="1.4" height="0.9" fill="#2e2620" opacity="0.88"/><rect x="84.2" y="130.3" width="1.3" height="0.9" fill="#2e2620" opacity="0.87"/><rect x="85.0" y="124.4" width="1.3" height="0.9" fill="#2e2620" opacity="0.76"/><rect x="85.1" y="130.3" width="1.0" height="0.9" fill="#2e2620" opacity="0.87"/><rect x="86.4" y="124.4" width="1.2" height="0.9" fill="#2e2620" opacity="0.92"/><rect x="86.8" y="130.3" width="0.8" height="0.9" fill="#2e2620" opacity="0.83"/><rect x="87.7" y="124.4" width="1.4" height="0.9" fill="#2e2620" opacity="0.82"/><rect x="88.3" y="130.3" width="0.8" height="0.9" fill="#2e2620" opacity="0.84"/><rect x="88.8" y="124.4" width="0.9" height="0.9" fill="#2e2620" opacity="0.87"/><rect x="89.5" y="130.3" width="1.6" height="0.9" fill="#2e2620" opacity="0.72"/><rect x="90.4" y="124.4" width="1.3" height="0.9" fill="#2e2620" opacity="0.84"/><rect x="91.0" y="130.3" width="1.5" height="0.9" fill="#2e2620" opacity="0.62"/><rect x="91.8" y="124.4" width="1.3" height="0.9" fill="#2e2620" opacity="0.83"/><rect x="92.0" y="130.3" width="1.6" height="0.9" fill="#2e2620" opacity="0.67"/><rect x="93.2" y="124.4" width="1.0" height="0.9" fill="#2e2620" opacity="0.64"/><rect x="93.3" y="130.3" width="1.5" height="0.9" fill="#2e2620" opacity="0.61"/><rect x="94.4" y="124.4" width="1.4" height="0.9" fill="#2e2620" opacity="0.71"/><rect x="95.2" y="130.3" width="1.5" height="0.9" fill="#2e2620" opacity="0.76"/><rect x="95.8" y="124.4" width="1.5" height="0.9" fill="#2e2620" opacity="0.84"/><rect x="96.6" y="130.3" width="1.0" height="0.9" fill="#2e2620" opacity="0.80"/><rect x="97.0" y="124.4" width="0.8" height="0.9" fill="#2e2620" opacity="0.86"/><rect x="97.2" y="130.3" width="0.8" height="0.9" fill="#2e2620" opacity="0.80"/><rect x="98.4" y="124.4" width="0.9" height="0.9" fill="#2e2620" opacity="0.71"/><rect x="99.1" y="130.3" width="1.3" height="0.9" fill="#2e2620" opacity="0.62"/><rect x="99.9" y="124.4" width="1.0" height="0.9" fill="#2e2620" opacity="0.74"/><rect x="100.6" y="130.3" width="1.6" height="0.9" fill="#2e2620" opacity="0.62"/><rect x="100.9" y="124.4" width="1.3" height="0.9" fill="#2e2620" opacity="0.74"/><rect x="101.1" y="130.3" width="1.1" height="0.9" fill="#2e2620" opacity="0.93"/><rect x="102.0" y="124.4" width="1.3" height="0.9" fill="#2e2620" opacity="0.78"/><rect x="102.3" y="130.3" width="1.2" height="0.9" fill="#2e2620" opacity="0.82"/><rect x="103.1" y="124.4" width="1.3" height="0.9" fill="#2e2620" opacity="0.61"/><rect x="103.1" y="130.3" width="0.9" height="0.9" fill="#2e2620" opacity="0.72"/><rect x="104.3" y="124.4" width="1.2" height="0.9" fill="#2e2620" opacity="0.65"/><rect x="105.0" y="130.3" width="1.2" height="0.9" fill="#2e2620" opacity="0.91"/><rect x="105.7" y="124.4" width="1.0" height="0.9" fill="#2e2620" opacity="0.94"/><rect x="106.1" y="130.3" width="1.1" height="0.9" fill="#2e2620" opacity="0.81"/><rect x="107.0" y="124.4" width="1.4" height="0.9" fill="#2e2620" opacity="0.65"/><rect x="107.7" y="130.3" width="1.2" height="0.9" fill="#2e2620" opacity="0.77"/><rect x="108.0" y="124.4" width="1.0" height="0.9" fill="#2e2620" opacity="0.87"/><rect x="108.4" y="130.3" width="1.3" height="0.9" fill="#2e2620" opacity="0.82"/><rect x="109.2" y="124.4" width="0.8" height="0.9" fill="#2e2620" opacity="0.61"/><rect x="109.9" y="130.3" width="1.3" height="0.9" fill="#2e2620" opacity="0.90"/><rect x="110.7" y="124.4" width="1.3" height="0.9" fill="#2e2620" opacity="0.72"/><rect x="111.3" y="130.3" width="1.2" height="0.9" fill="#2e2620" opacity="0.79"/><rect x="111.9" y="124.4" width="1.4" height="0.9" fill="#2e2620" opacity="0.91"/><rect x="112.7" y="130.3" width="1.5" height="0.9" fill="#2e2620" opacity="0.62"/><rect x="113.3" y="124.4" width="1.1" height="0.9" fill="#2e2620" opacity="0.67"/><rect x="113.7" y="130.3" width="0.8" height="0.9" fill="#2e2620" opacity="0.62"/><rect x="114.7" y="124.4" width="1.5" height="0.9" fill="#2e2620" opacity="0.80"/><rect x="115.3" y="130.3" width="1.5" height="0.9" fill="#2e2620" opacity="0.65"/><rect x="115.8" y="124.4" width="1.2" height="0.9" fill="#2e2620" opacity="0.70"/><rect x="116.5" y="130.3" width="1.2" height="0.9" fill="#2e2620" opacity="0.70"/><rect x="117.4" y="124.4" width="1.0" height="0.9" fill="#2e2620" opacity="0.81"/><rect x="118.0" y="130.3" width="1.5" height="0.9" fill="#2e2620" opacity="0.64"/><rect x="118.6" y="124.4" width="1.6" height="0.9" fill="#2e2620" opacity="0.78"/><rect x="118.9" y="130.3" width="1.2" height="0.9" fill="#2e2620" opacity="0.80"/><rect x="119.9" y="124.4" width="1.0" height="0.9" fill="#2e2620" opacity="0.77"/><rect x="120.0" y="130.3" width="1.4" height="0.9" fill="#2e2620" opacity="0.87"/><rect x="121.0" y="124.4" width="1.0" height="0.9" fill="#2e2620" opacity="0.87"/><rect x="121.6" y="130.3" width="0.9" height="0.9" fill="#2e2620" opacity="0.82"/><rect x="122.3" y="124.4" width="0.8" height="0.9" fill="#2e2620" opacity="0.86"/><rect x="122.4" y="130.3" width="1.1" height="0.9" fill="#2e2620" opacity="0.67"/><rect x="123.7" y="124.4" width="1.1" height="0.9" fill="#2e2620" opacity="0.93"/><rect x="123.7" y="130.3" width="1.2" height="0.9" fill="#2e2620" opacity="0.84"/><rect x="124.7" y="124.4" width="1.3" height="0.9" fill="#2e2620" opacity="0.61"/><rect x="125.2" y="130.3" width="0.9" height="0.9" fill="#2e2620" opacity="0.64"/><rect x="126.1" y="124.4" width="1.5" height="0.9" fill="#2e2620" opacity="0.82"/><rect x="126.2" y="130.3" width="1.4" height="0.9" fill="#2e2620" opacity="0.63"/><rect x="127.6" y="124.4" width="1.0" height="0.9" fill="#2e2620" opacity="0.82"/><rect x="127.7" y="130.3" width="0.9" height="0.9" fill="#2e2620" opacity="0.79"/><rect x="129.0" y="124.4" width="1.2" height="0.9" fill="#2e2620" opacity="0.67"/><rect x="129.3" y="130.3" width="1.1" height="0.9" fill="#2e2620" opacity="0.75"/><rect x="130.1" y="124.4" width="1.5" height="0.9" fill="#2e2620" opacity="0.68"/><rect x="130.1" y="130.3" width="0.9" height="0.9" fill="#2e2620" opacity="0.70"/><rect x="131.2" y="124.4" width="1.2" height="0.9" fill="#2e2620" opacity="0.89"/><rect x="131.4" y="130.3" width="1.0" height="0.9" fill="#2e2620" opacity="0.88"/><rect x="132.7" y="124.4" width="1.2" height="0.9" fill="#2e2620" opacity="0.87"/><rect x="132.9" y="130.3" width="1.3" height="0.9" fill="#2e2620" opacity="0.83"/><rect x="67.8" y="126.9" width="1.1" height="2.5" fill="#3d352c" opacity="0.8"/><rect x="69.5" y="127.2" width="0.7" height="2.2" fill="#4a4036" opacity="0.8"/><rect x="71.4" y="127.2" width="1.3" height="2.2" fill="#4a4036" opacity="0.8"/><rect x="73.3" y="126.9" width="1.2" height="2.0" fill="#7a6a58" opacity="0.8"/><rect x="74.8" y="127.4" width="1.2" height="2.4" fill="#2f2a24" opacity="0.8"/><rect x="75.9" y="127.5" width="0.7" height="2.1" fill="#5b5044" opacity="0.8"/><rect x="77.1" y="126.5" width="0.6" height="1.5" fill="#2f2a24" opacity="0.8"/><rect x="79.2" y="126.7" width="0.9" height="1.5" fill="#3d352c" opacity="0.8"/><rect x="81.1" y="126.4" width="1.4" height="1.2" fill="#2f2a24" opacity="0.8"/><rect x="82.3" y="126.5" width="0.9" height="2.0" fill="#2f2a24" opacity="0.8"/><rect x="84.2" y="127.7" width="0.9" height="2.4" fill="#4a4036" opacity="0.8"/><rect x="86.2" y="126.6" width="1.4" height="2.6" fill="#4a4036" opacity="0.8"/><rect x="87.3" y="126.5" width="1.4" height="1.6" fill="#5b5044" opacity="0.8"/><rect x="88.4" y="127.7" width="0.9" height="1.3" fill="#5b5044" opacity="0.8"/><rect x="90.6" y="127.3" width="0.8" height="1.5" fill="#7a6a58" opacity="0.8"/><rect x="91.8" y="127.6" width="0.9" height="1.7" fill="#2f2a24" opacity="0.8"/><rect x="93.6" y="126.6" width="0.6" height="2.4" fill="#4a4036" opacity="0.8"/><rect x="95.6" y="127.6" width="0.9" height="1.7" fill="#2f2a24" opacity="0.8"/><rect x="97.7" y="126.6" width="0.7" height="1.6" fill="#2f2a24" opacity="0.8"/><rect x="98.7" y="126.3" width="0.7" height="1.3" fill="#4a4036" opacity="0.8"/><rect x="100.1" y="126.3" width="0.7" height="1.4" fill="#4a4036" opacity="0.8"/><rect x="101.9" y="126.7" width="0.8" height="2.0" fill="#4a4036" opacity="0.8"/><rect x="103.3" y="126.3" width="0.9" height="1.9" fill="#2f2a24" opacity="0.8"/><rect x="104.4" y="127.1" width="0.9" height="2.4" fill="#7a6a58" opacity="0.8"/><rect x="105.7" y="127.3" width="0.9" height="1.8" fill="#2f2a24" opacity="0.8"/><rect x="106.9" y="126.2" width="0.8" height="1.5" fill="#5b5044" opacity="0.8"/><rect x="108.3" y="127.3" width="1.2" height="2.4" fill="#7a6a58" opacity="0.8"/><rect x="109.8" y="127.0" width="1.4" height="2.2" fill="#2f2a24" opacity="0.8"/><rect x="111.8" y="126.7" width="0.8" height="2.4" fill="#7a6a58" opacity="0.8"/><rect x="112.9" y="126.7" width="1.2" height="1.7" fill="#5b5044" opacity="0.8"/><rect x="114.6" y="126.4" width="1.1" height="1.7" fill="#4a4036" opacity="0.8"/><rect x="115.9" y="127.4" width="1.0" height="1.5" fill="#2f2a24" opacity="0.8"/><rect x="118.0" y="127.0" width="0.6" height="2.6" fill="#2f2a24" opacity="0.8"/><rect x="119.8" y="127.5" width="1.3" height="1.5" fill="#2f2a24" opacity="0.8"/><rect x="121.6" y="126.8" width="1.1" height="2.1" fill="#4a4036" opacity="0.8"/><rect x="123.0" y="127.6" width="1.1" height="2.0" fill="#3d352c" opacity="0.8"/><rect x="124.0" y="127.5" width="1.1" height="2.3" fill="#4a4036" opacity="0.8"/><rect x="125.9" y="127.5" width="0.9" height="2.4" fill="#5b5044" opacity="0.8"/><rect x="127.4" y="127.8" width="0.7" height="1.7" fill="#3d352c" opacity="0.8"/><rect x="129.4" y="126.3" width="0.6" height="2.1" fill="#2f2a24" opacity="0.8"/><rect x="131.0" y="127.3" width="0.7" height="2.4" fill="#4a4036" opacity="0.8"/>
<path d="M89.0 123 H93.80000000000001 L93.30000000000001 127.5 L93.7 132.5 H89.10000000000001 L89.5 127.5 Z" fill="#111"/>
<rect x="88.7" y="132" width="5.4" height="5.400000000000006" rx="1.8" fill="#eb9a4c" stroke="#111" stroke-width="0.8"/>
<rect x="88.80000000000001" y="134.25" width="5.2" height="0.9" fill="#222" />
<g transform="translate(91.40,138.20) rotate(90.00)"><rect x="0" y="-3.5" width="28.20" height="7.0" rx="1.6" fill="#ebe7e7" stroke="#000" stroke-width="0.85"/><ellipse cx="1.5" cy="0" rx="1.5" ry="3.5" fill="#ebe7e7" stroke="#111" stroke-width="0.7"/><rect x="5.70" y="-3.5" width="2.3" height="7.0" fill="#111"/><rect x="8.70" y="-3.5" width="2.9" height="7.0" fill="#d4522a"/></g>
<path d="M106.19999999999999 123 H111.0 L110.5 127.5 L110.89999999999999 132.5 H106.3 L106.69999999999999 127.5 Z" fill="#111"/>
<rect x="105.89999999999999" y="132" width="5.4" height="5.400000000000006" rx="1.8" fill="#eb9a4c" stroke="#111" stroke-width="0.8"/>
<rect x="106.0" y="134.25" width="5.2" height="0.9" fill="#222" />
<g transform="translate(108.60,138.20) rotate(90.00)"><rect x="0" y="-3.5" width="28.20" height="7.0" rx="1.6" fill="#ebe7e7" stroke="#000" stroke-width="0.85"/><ellipse cx="1.5" cy="0" rx="1.5" ry="3.5" fill="#ebe7e7" stroke="#111" stroke-width="0.7"/><rect x="5.70" y="-3.5" width="2.3" height="7.0" fill="#111"/><rect x="8.70" y="-3.5" width="2.9" height="7.0" fill="#d4522a"/></g>
<text x="58" y="13.5" font-size="6.2" text-anchor="middle" fill="#222" >N</text>
<text x="145" y="13.5" font-size="6.2" text-anchor="middle" fill="#222" >N</text>
<text x="71.8" y="25.8" font-size="6.2" text-anchor="start" fill="#d0604a" textLength="16" lengthAdjust="spacingAndGlyphs" >P106L</text>
<text x="110.4" y="25.8" font-size="6.2" text-anchor="start" fill="#d0604a" textLength="16" lengthAdjust="spacingAndGlyphs" >P106L</text>
<line x1="68.2" y1="23.8" x2="71" y2="24.8" stroke="#333" stroke-width="0.6" />
<line x1="131.8" y1="23.8" x2="129" y2="24.8" stroke="#333" stroke-width="0.6" />
<path d="M48.5 20.5 L46 22.5 L59.5 42 L62.5 41.5 M52.5 31.5 L50 33" fill="none" stroke="#222" stroke-width="1.1"/>
<path d="M64 44.5 H61.5 V69.5 H64 M61.5 57 H59" fill="none" stroke="#222" stroke-width="1.1"/>
<path d="M65 71 L62.5 73 L76 94 L79 93.5 M69.5 82.5 L67 84" fill="none" stroke="#222" stroke-width="1.1"/>
<path d="M80 95 H77.5 V120.5 H80 M77.5 107.7 H75" fill="none" stroke="#222" stroke-width="1.1"/>
<text x="46.5" y="37.8" font-size="6.6" text-anchor="middle" fill="#444" >D1</text>
<text x="53.8" y="59" font-size="6.6" text-anchor="middle" fill="#444" >D2</text>
<text x="62.2" y="88" font-size="6.6" text-anchor="middle" fill="#444" >D3</text>
<text x="68.5" y="110" font-size="6.6" text-anchor="middle" fill="#444" >D4</text>
<text x="85" y="71.5" font-size="4.8" text-anchor="middle" fill="#777" >C</text>
<text x="87.7" y="77" font-size="4.8" text-anchor="middle" fill="#777" >C</text>
<text x="73.5" y="78" font-size="4.8" text-anchor="middle" fill="#777" >C</text>
<text x="75.6" y="83.5" font-size="4.8" text-anchor="middle" fill="#777" >C</text>
<text x="119" y="153.3" font-size="7.4" text-anchor="middle" fill="#555" textLength="4.6" lengthAdjust="spacingAndGlyphs" >Y</text>
<text x="119.4" y="161.3" font-size="7.4" text-anchor="middle" fill="#555" textLength="4.6" lengthAdjust="spacingAndGlyphs" >Y</text>
<text x="119.4" y="166.3" font-size="7.4" text-anchor="middle" fill="#555" textLength="4.6" lengthAdjust="spacingAndGlyphs" >Y</text>
<path d="M111.2 151.4 H113.8 M111.2 160.7 H113.8 M111.2 163.6 H113.8" fill="none" stroke="#333" stroke-width="0.8"/>
<text x="91.3" y="174.2" font-size="7" text-anchor="middle" fill="#555" >C</text>
<text x="109" y="174.2" font-size="7" text-anchor="middle" fill="#555" >C</text>
<text x="82" y="185.5" font-size="7.6" text-anchor="start" fill="#222" textLength="35.7" lengthAdjust="spacingAndGlyphs" >TpoR P106L</text>
<g transform="translate(225.80,23.80) rotate(54.25)"><rect x="0" y="-3.1" width="30.81" height="6.2" rx="1.6" fill="#ebe7e7" stroke="#000" stroke-width="0.85"/><ellipse cx="1.5" cy="0" rx="1.5" ry="3.1" fill="#ebe7e7" stroke="#111" stroke-width="0.7"/><rect x="4.48" y="-3.1" width="0.9" height="6.2" fill="#111"/><rect x="8.18" y="-3.1" width="0.9" height="6.2" fill="#111"/><rect x="21.11" y="-3.1" width="0.9" height="6.2" fill="#111"/><rect x="24.19" y="-3.1" width="0.9" height="6.2" fill="#111"/><rect x="27.28" y="-3.1" width="0.9" height="6.2" fill="#111"/></g>
<g transform="translate(243.50,49.00) rotate(90.00)"><rect x="0" y="-3.5" width="29.60" height="7.0" rx="1.6" fill="#ebe7e7" stroke="#000" stroke-width="0.85"/><ellipse cx="1.5" cy="0" rx="1.5" ry="3.5" fill="#ebe7e7" stroke="#111" stroke-width="0.7"/><rect x="3.15" y="-3.5" width="0.8" height="7.0" fill="#111"/><rect x="6.11" y="-3.5" width="0.8" height="7.0" fill="#111"/><rect x="12.92" y="-3.5" width="0.8" height="7.0" fill="#111"/><rect x="19.32" y="-3.5" width="2.8" height="7.0" fill="#111"/><rect x="23.28" y="-3.5" width="0.8" height="7.0" fill="#111"/></g>
<g transform="translate(243.80,80.20) rotate(57.76)"><rect x="0" y="-3.3" width="30.74" height="6.6" rx="1.6" fill="#ebe7e7" stroke="#000" stroke-width="0.85"/><ellipse cx="1.5" cy="0" rx="1.5" ry="3.3" fill="#ebe7e7" stroke="#111" stroke-width="0.7"/><rect x="3.24" y="-3.3" width="0.9" height="6.6" fill="#111"/><rect x="6.31" y="-3.3" width="0.9" height="6.6" fill="#111"/><rect x="13.38" y="-3.3" width="0.9" height="6.6" fill="#111"/><rect x="16.46" y="-3.3" width="0.9" height="6.6" fill="#111"/><rect x="24.76" y="-3.3" width="0.9" height="6.6" fill="#111"/><rect x="27.22" y="-3.3" width="0.9" height="6.6" fill="#111"/></g>
<g transform="translate(261.30,106.00) rotate(90.00)"><rect x="0" y="-3.7" width="28.60" height="7.4" rx="1.6" fill="#ebe7e7" stroke="#000" stroke-width="0.85"/><ellipse cx="1.5" cy="0" rx="1.5" ry="3.7" fill="#ebe7e7" stroke="#111" stroke-width="0.7"/><rect x="4.80" y="-3.7" width="0.7" height="7.4" fill="#111"/><rect x="19.19" y="-3.7" width="2.8" height="7.4" fill="#111"/><rect x="22.53" y="-3.7" width="0.7" height="7.4" fill="#111"/></g>
<g transform="translate(313.00,23.80) rotate(125.75)"><rect x="0" y="-3.1" width="30.81" height="6.2" rx="1.6" fill="#ebe7e7" stroke="#000" stroke-width="0.85"/><ellipse cx="1.5" cy="0" rx="1.5" ry="3.1" fill="#ebe7e7" stroke="#111" stroke-width="0.7"/><rect x="4.48" y="-3.1" width="0.9" height="6.2" fill="#111"/><rect x="8.18" y="-3.1" width="0.9" height="6.2" fill="#111"/><rect x="21.11" y="-3.1" width="0.9" height="6.2" fill="#111"/><rect x="24.19" y="-3.1" width="0.9" height="6.2" fill="#111"/><rect x="27.28" y="-3.1" width="0.9" height="6.2" fill="#111"/></g>
<g transform="translate(295.30,49.00) rotate(90.00)"><rect x="0" y="-3.5" width="29.60" height="7.0" rx="1.6" fill="#ebe7e7" stroke="#000" stroke-width="0.85"/><ellipse cx="1.5" cy="0" rx="1.5" ry="3.5" fill="#ebe7e7" stroke="#111" stroke-width="0.7"/><rect x="3.15" y="-3.5" width="0.8" height="7.0" fill="#111"/><rect x="6.11" y="-3.5" width="0.8" height="7.0" fill="#111"/><rect x="12.92" y="-3.5" width="0.8" height="7.0" fill="#111"/><rect x="19.32" y="-3.5" width="2.8" height="7.0" fill="#111"/><rect x="23.28" y="-3.5" width="0.8" height="7.0" fill="#111"/></g>
<g transform="translate(295.00,80.20) rotate(122.24)"><rect x="0" y="-3.3" width="30.74" height="6.6" rx="1.6" fill="#ebe7e7" stroke="#000" stroke-width="0.85"/><ellipse cx="1.5" cy="0" rx="1.5" ry="3.3" fill="#ebe7e7" stroke="#111" stroke-width="0.7"/><rect x="3.24" y="-3.3" width="0.9" height="6.6" fill="#111"/><rect x="6.31" y="-3.3" width="0.9" height="6.6" fill="#111"/><rect x="13.38" y="-3.3" width="0.9" height="6.6" fill="#111"/><rect x="16.46" y="-3.3" width="0.9" height="6.6" fill="#111"/><rect x="24.76" y="-3.3" width="0.9" height="6.6" fill="#111"/><rect x="27.22" y="-3.3" width="0.9" height="6.6" fill="#111"/></g>
<g transform="translate(277.50,106.00) rotate(90.00)"><rect x="0" y="-3.7" width="28.60" height="7.4" rx="1.6" fill="#ebe7e7" stroke="#000" stroke-width="0.85"/><ellipse cx="1.5" cy="0" rx="1.5" ry="3.7" fill="#ebe7e7" stroke="#111" stroke-width="0.7"/><rect x="4.80" y="-3.7" width="0.7" height="7.4" fill="#111"/><rect x="19.19" y="-3.7" width="2.8" height="7.4" fill="#111"/><rect x="22.53" y="-3.7" width="0.7" height="7.4" fill="#111"/></g>
<rect x="235" y="136.2" width="69.60000000000002" height="8.200000000000017" fill="#b0906a"/>
<rect x="235" y="138.2" width="69.60000000000002" height="4.200000000000017" fill="#cbbba2"/>
<rect x="235.3" y="136.2" width="1.1" height="0.9" fill="#2e2620" opacity="0.78"/><rect x="235.3" y="143.5" width="0.9" height="0.9" fill="#2e2620" opacity="0.61"/><rect x="236.8" y="136.2" width="0.8" height="0.9" fill="#2e2620" opacity="0.62"/><rect x="237.5" y="143.5" width="0.9" height="0.9" fill="#2e2620" opacity="0.66"/><rect x="238.3" y="136.2" width="1.0" height="0.9" fill="#2e2620" opacity="0.88"/><rect x="238.9" y="143.5" width="1.4" height="0.9" fill="#2e2620" opacity="0.85"/><rect x="239.3" y="136.2" width="1.5" height="0.9" fill="#2e2620" opacity="0.77"/><rect x="240.0" y="143.5" width="1.2" height="0.9" fill="#2e2620" opacity="0.87"/><rect x="240.6" y="136.2" width="0.9" height="0.9" fill="#2e2620" opacity="0.63"/><rect x="241.3" y="143.5" width="1.1" height="0.9" fill="#2e2620" opacity="0.73"/><rect x="241.8" y="136.2" width="1.1" height="0.9" fill="#2e2620" opacity="0.69"/><rect x="241.8" y="143.5" width="0.8" height="0.9" fill="#2e2620" opacity="0.87"/><rect x="243.4" y="136.2" width="1.4" height="0.9" fill="#2e2620" opacity="0.81"/><rect x="244.0" y="143.5" width="1.3" height="0.9" fill="#2e2620" opacity="0.90"/><rect x="244.8" y="136.2" width="1.1" height="0.9" fill="#2e2620" opacity="0.69"/><rect x="245.2" y="143.5" width="1.3" height="0.9" fill="#2e2620" opacity="0.84"/><rect x="246.0" y="136.2" width="1.0" height="0.9" fill="#2e2620" opacity="0.90"/><rect x="246.3" y="143.5" width="1.0" height="0.9" fill="#2e2620" opacity="0.74"/><rect x="247.4" y="136.2" width="0.8" height="0.9" fill="#2e2620" opacity="0.80"/><rect x="248.0" y="143.5" width="1.2" height="0.9" fill="#2e2620" opacity="0.69"/><rect x="248.7" y="136.2" width="1.1" height="0.9" fill="#2e2620" opacity="0.92"/><rect x="249.4" y="143.5" width="1.4" height="0.9" fill="#2e2620" opacity="0.72"/><rect x="250.0" y="136.2" width="1.0" height="0.9" fill="#2e2620" opacity="0.95"/><rect x="250.1" y="143.5" width="1.3" height="0.9" fill="#2e2620" opacity="0.75"/><rect x="251.5" y="136.2" width="1.1" height="0.9" fill="#2e2620" opacity="0.87"/><rect x="252.0" y="143.5" width="1.2" height="0.9" fill="#2e2620" opacity="0.71"/><rect x="252.5" y="136.2" width="1.2" height="0.9" fill="#2e2620" opacity="0.66"/><rect x="252.6" y="143.5" width="1.1" height="0.9" fill="#2e2620" opacity="0.85"/><rect x="254.0" y="136.2" width="1.2" height="0.9" fill="#2e2620" opacity="0.66"/><rect x="254.7" y="143.5" width="1.0" height="0.9" fill="#2e2620" opacity="0.70"/><rect x="255.5" y="136.2" width="0.9" height="0.9" fill="#2e2620" opacity="0.87"/><rect x="255.8" y="143.5" width="0.9" height="0.9" fill="#2e2620" opacity="0.68"/><rect x="256.5" y="136.2" width="1.1" height="0.9" fill="#2e2620" opacity="0.66"/><rect x="256.8" y="143.5" width="0.8" height="0.9" fill="#2e2620" opacity="0.72"/><rect x="257.7" y="136.2" width="1.5" height="0.9" fill="#2e2620" opacity="0.72"/><rect x="258.1" y="143.5" width="1.5" height="0.9" fill="#2e2620" opacity="0.82"/><rect x="258.9" y="136.2" width="1.5" height="0.9" fill="#2e2620" opacity="0.90"/><rect x="259.0" y="143.5" width="1.4" height="0.9" fill="#2e2620" opacity="0.72"/><rect x="260.2" y="136.2" width="1.3" height="0.9" fill="#2e2620" opacity="0.75"/><rect x="260.9" y="143.5" width="1.1" height="0.9" fill="#2e2620" opacity="0.68"/><rect x="261.7" y="136.2" width="1.1" height="0.9" fill="#2e2620" opacity="0.87"/><rect x="262.0" y="143.5" width="1.0" height="0.9" fill="#2e2620" opacity="0.68"/><rect x="263.2" y="136.2" width="1.4" height="0.9" fill="#2e2620" opacity="0.84"/><rect x="263.5" y="143.5" width="1.1" height="0.9" fill="#2e2620" opacity="0.71"/><rect x="264.8" y="136.2" width="1.4" height="0.9" fill="#2e2620" opacity="0.63"/><rect x="265.2" y="143.5" width="0.8" height="0.9" fill="#2e2620" opacity="0.76"/><rect x="266.0" y="136.2" width="1.2" height="0.9" fill="#2e2620" opacity="0.89"/><rect x="266.3" y="143.5" width="1.5" height="0.9" fill="#2e2620" opacity="0.70"/><rect x="267.5" y="136.2" width="1.4" height="0.9" fill="#2e2620" opacity="0.94"/><rect x="267.8" y="143.5" width="1.2" height="0.9" fill="#2e2620" opacity="0.77"/><rect x="268.7" y="136.2" width="0.9" height="0.9" fill="#2e2620" opacity="0.71"/><rect x="269.1" y="143.5" width="1.2" height="0.9" fill="#2e2620" opacity="0.90"/><rect x="270.2" y="136.2" width="1.4" height="0.9" fill="#2e2620" opacity="0.72"/><rect x="271.0" y="143.5" width="1.3" height="0.9" fill="#2e2620" opacity="0.79"/><rect x="271.7" y="136.2" width="1.2" height="0.9" fill="#2e2620" opacity="0.86"/><rect x="272.5" y="143.5" width="1.5" height="0.9" fill="#2e2620" opacity="0.65"/><rect x="272.8" y="136.2" width="1.5" height="0.9" fill="#2e2620" opacity="0.90"/><rect x="273.4" y="143.5" width="1.0" height="0.9" fill="#2e2620" opacity="0.86"/><rect x="273.9" y="136.2" width="0.8" height="0.9" fill="#2e2620" opacity="0.73"/><rect x="274.1" y="143.5" width="1.6" height="0.9" fill="#2e2620" opacity="0.64"/><rect x="275.2" y="136.2" width="1.2" height="0.9" fill="#2e2620" opacity="0.81"/><rect x="275.5" y="143.5" width="1.0" height="0.9" fill="#2e2620" opacity="0.89"/><rect x="276.3" y="136.2" width="1.0" height="0.9" fill="#2e2620" opacity="0.85"/><rect x="276.4" y="143.5" width="0.8" height="0.9" fill="#2e2620" opacity="0.88"/><rect x="277.6" y="136.2" width="1.0" height="0.9" fill="#2e2620" opacity="0.91"/><rect x="277.9" y="143.5" width="0.9" height="0.9" fill="#2e2620" opacity="0.81"/><rect x="279.0" y="136.2" width="1.1" height="0.9" fill="#2e2620" opacity="0.69"/><rect x="279.4" y="143.5" width="1.4" height="0.9" fill="#2e2620" opacity="0.74"/><rect x="280.1" y="136.2" width="1.1" height="0.9" fill="#2e2620" opacity="0.74"/><rect x="280.8" y="143.5" width="0.8" height="0.9" fill="#2e2620" opacity="0.68"/><rect x="281.5" y="136.2" width="1.6" height="0.9" fill="#2e2620" opacity="0.93"/><rect x="282.0" y="143.5" width="1.3" height="0.9" fill="#2e2620" opacity="0.81"/><rect x="282.8" y="136.2" width="1.0" height="0.9" fill="#2e2620" opacity="0.89"/><rect x="283.1" y="143.5" width="1.0" height="0.9" fill="#2e2620" opacity="0.69"/><rect x="284.3" y="136.2" width="1.3" height="0.9" fill="#2e2620" opacity="0.86"/><rect x="284.7" y="143.5" width="1.2" height="0.9" fill="#2e2620" opacity="0.68"/><rect x="285.6" y="136.2" width="1.0" height="0.9" fill="#2e2620" opacity="0.92"/><rect x="285.9" y="143.5" width="1.1" height="0.9" fill="#2e2620" opacity="0.93"/><rect x="287.2" y="136.2" width="1.3" height="0.9" fill="#2e2620" opacity="0.81"/><rect x="287.4" y="143.5" width="1.4" height="0.9" fill="#2e2620" opacity="0.68"/><rect x="288.6" y="136.2" width="1.4" height="0.9" fill="#2e2620" opacity="0.82"/><rect x="289.1" y="143.5" width="0.9" height="0.9" fill="#2e2620" opacity="0.77"/><rect x="289.9" y="136.2" width="1.0" height="0.9" fill="#2e2620" opacity="0.81"/><rect x="290.4" y="143.5" width="1.2" height="0.9" fill="#2e2620" opacity="0.69"/><rect x="291.2" y="136.2" width="1.1" height="0.9" fill="#2e2620" opacity="0.71"/><rect x="291.3" y="143.5" width="1.4" height="0.9" fill="#2e2620" opacity="0.80"/><rect x="292.5" y="136.2" width="1.2" height="0.9" fill="#2e2620" opacity="0.61"/><rect x="293.2" y="143.5" width="0.9" height="0.9" fill="#2e2620" opacity="0.88"/><rect x="293.8" y="136.2" width="0.9" height="0.9" fill="#2e2620" opacity="0.82"/><rect x="294.6" y="143.5" width="1.6" height="0.9" fill="#2e2620" opacity="0.66"/><rect x="295.0" y="136.2" width="1.4" height="0.9" fill="#2e2620" opacity="0.80"/><rect x="295.8" y="143.5" width="1.3" height="0.9" fill="#2e2620" opacity="0.70"/><rect x="296.2" y="136.2" width="1.4" height="0.9" fill="#2e2620" opacity="0.67"/><rect x="296.9" y="143.5" width="1.3" height="0.9" fill="#2e2620" opacity="0.71"/><rect x="297.5" y="136.2" width="1.6" height="0.9" fill="#2e2620" opacity="0.66"/><rect x="298.2" y="143.5" width="1.1" height="0.9" fill="#2e2620" opacity="0.67"/><rect x="298.6" y="136.2" width="0.9" height="0.9" fill="#2e2620" opacity="0.79"/><rect x="298.9" y="143.5" width="0.8" height="0.9" fill="#2e2620" opacity="0.95"/><rect x="299.8" y="136.2" width="1.2" height="0.9" fill="#2e2620" opacity="0.76"/><rect x="300.1" y="143.5" width="0.8" height="0.9" fill="#2e2620" opacity="0.86"/><rect x="301.2" y="136.2" width="1.2" height="0.9" fill="#2e2620" opacity="0.70"/><rect x="301.5" y="143.5" width="1.5" height="0.9" fill="#2e2620" opacity="0.75"/><rect x="302.6" y="136.2" width="0.8" height="0.9" fill="#2e2620" opacity="0.66"/><rect x="303.2" y="143.5" width="0.9" height="0.9" fill="#2e2620" opacity="0.63"/><rect x="303.7" y="136.2" width="1.3" height="0.9" fill="#2e2620" opacity="0.70"/><rect x="303.9" y="143.5" width="0.9" height="0.9" fill="#2e2620" opacity="0.79"/><rect x="235.5" y="138.0" width="1.2" height="2.4" fill="#4a4036" opacity="0.8"/><rect x="237.5" y="138.2" width="1.0" height="2.2" fill="#2f2a24" opacity="0.8"/><rect x="239.1" y="139.5" width="1.3" height="1.3" fill="#2f2a24" opacity="0.8"/><rect x="240.1" y="138.4" width="1.4" height="1.4" fill="#4a4036" opacity="0.8"/><rect x="241.8" y="138.4" width="0.7" height="1.9" fill="#3d352c" opacity="0.8"/><rect x="243.7" y="140.4" width="1.3" height="1.2" fill="#3d352c" opacity="0.8"/><rect x="245.3" y="140.4" width="1.4" height="2.1" fill="#7a6a58" opacity="0.8"/><rect x="247.4" y="140.9" width="1.3" height="2.3" fill="#7a6a58" opacity="0.8"/><rect x="249.0" y="140.9" width="0.9" height="2.3" fill="#4a4036" opacity="0.8"/><rect x="250.6" y="139.5" width="0.9" height="1.8" fill="#2f2a24" opacity="0.8"/><rect x="252.6" y="140.5" width="1.3" height="1.9" fill="#5b5044" opacity="0.8"/><rect x="253.7" y="138.6" width="1.0" height="1.2" fill="#4a4036" opacity="0.8"/><rect x="255.2" y="139.5" width="0.9" height="2.3" fill="#3d352c" opacity="0.8"/><rect x="256.8" y="139.4" width="1.1" height="1.5" fill="#3d352c" opacity="0.8"/><rect x="258.6" y="138.6" width="0.7" height="1.7" fill="#2f2a24" opacity="0.8"/><rect x="260.1" y="140.7" width="1.4" height="2.2" fill="#5b5044" opacity="0.8"/><rect x="261.4" y="138.8" width="0.9" height="1.2" fill="#5b5044" opacity="0.8"/><rect x="262.7" y="138.8" width="0.6" height="2.5" fill="#3d352c" opacity="0.8"/><rect x="264.3" y="138.2" width="1.0" height="1.6" fill="#2f2a24" opacity="0.8"/><rect x="265.5" y="138.3" width="1.4" height="2.4" fill="#7a6a58" opacity="0.8"/><rect x="267.0" y="139.1" width="1.4" height="2.4" fill="#5b5044" opacity="0.8"/><rect x="268.0" y="138.2" width="0.8" height="1.6" fill="#5b5044" opacity="0.8"/><rect x="269.4" y="138.3" width="0.8" height="2.5" fill="#4a4036" opacity="0.8"/><rect x="271.2" y="141.0" width="1.2" height="2.2" fill="#5b5044" opacity="0.8"/><rect x="272.4" y="138.9" width="0.9" height="2.2" fill="#7a6a58" opacity="0.8"/><rect x="274.0" y="140.8" width="0.8" height="2.0" fill="#3d352c" opacity="0.8"/><rect x="275.3" y="140.1" width="1.1" height="2.1" fill="#4a4036" opacity="0.8"/><rect x="277.4" y="141.0" width="1.0" height="2.5" fill="#4a4036" opacity="0.8"/><rect x="279.2" y="138.3" width="1.1" height="2.3" fill="#3d352c" opacity="0.8"/><rect x="280.3" y="140.3" width="1.1" height="1.7" fill="#7a6a58" opacity="0.8"/><rect x="282.2" y="138.7" width="0.7" height="2.1" fill="#3d352c" opacity="0.8"/><rect x="284.1" y="139.2" width="1.2" height="2.5" fill="#7a6a58" opacity="0.8"/><rect x="286.1" y="138.6" width="1.0" height="2.0" fill="#7a6a58" opacity="0.8"/><rect x="287.7" y="138.5" width="1.3" height="2.3" fill="#5b5044" opacity="0.8"/><rect x="289.3" y="139.6" width="0.9" height="1.4" fill="#5b5044" opacity="0.8"/><rect x="290.7" y="140.2" width="0.8" height="1.8" fill="#7a6a58" opacity="0.8"/><rect x="292.6" y="139.4" width="0.8" height="1.6" fill="#5b5044" opacity="0.8"/><rect x="293.9" y="139.1" width="1.1" height="2.0" fill="#5b5044" opacity="0.8"/><rect x="295.3" y="139.5" width="1.1" height="1.3" fill="#4a4036" opacity="0.8"/><rect x="297.0" y="140.6" width="0.7" height="1.9" fill="#4a4036" opacity="0.8"/><rect x="298.5" y="139.9" width="1.3" height="2.4" fill="#3d352c" opacity="0.8"/><rect x="299.6" y="140.8" width="0.6" height="1.8" fill="#5b5044" opacity="0.8"/><rect x="301.8" y="139.1" width="0.8" height="2.1" fill="#2f2a24" opacity="0.8"/>
<path d="M257.8 134.8 H262.59999999999997 L262.09999999999997 140.0 L262.5 145.7 H257.9 L258.3 140.0 Z" fill="#111"/>
<rect x="257.5" y="145.2" width="5.4" height="5.0" rx="1.8" fill="#eb9a4c" stroke="#111" stroke-width="0.8"/>
<rect x="257.59999999999997" y="147.25" width="5.2" height="0.9" fill="#222" />
<g transform="translate(260.20,151.20) rotate(90.00)"><rect x="0" y="-3.5" width="15.20" height="7.0" rx="1.6" fill="#ebe7e7" stroke="#000" stroke-width="0.85"/><ellipse cx="1.5" cy="0" rx="1.5" ry="3.5" fill="#ebe7e7" stroke="#111" stroke-width="0.7"/><rect x="5.03" y="-3.5" width="2.7" height="7.0" fill="#111"/><rect x="8.84" y="-3.5" width="3.0" height="7.0" fill="#d4522a"/></g>
<path d="M276.2 134.8 H280.99999999999994 L280.49999999999994 140.0 L280.9 145.7 H276.29999999999995 L276.7 140.0 Z" fill="#111"/>
<rect x="275.9" y="145.2" width="5.4" height="5.0" rx="1.8" fill="#eb9a4c" stroke="#111" stroke-width="0.8"/>
<rect x="275.99999999999994" y="147.25" width="5.2" height="0.9" fill="#222" />
<g transform="translate(278.60,151.20) rotate(90.00)"><rect x="0" y="-3.5" width="15.20" height="7.0" rx="1.6" fill="#ebe7e7" stroke="#000" stroke-width="0.85"/><ellipse cx="1.5" cy="0" rx="1.5" ry="3.5" fill="#ebe7e7" stroke="#111" stroke-width="0.7"/><rect x="5.03" y="-3.5" width="2.7" height="7.0" fill="#111"/><rect x="8.84" y="-3.5" width="3.0" height="7.0" fill="#d4522a"/></g>
<text x="223.7" y="20.7" font-size="6.2" text-anchor="middle" fill="#222" >N</text>
<text x="314.5" y="20.7" font-size="6.2" text-anchor="middle" fill="#222" >N</text>
<text x="253.7" y="58" font-size="5.4" text-anchor="middle" fill="#555" >C/C</text>
<text x="282.8" y="58" font-size="5.4" text-anchor="middle" fill="#555" >C/C</text>
<text transform="translate(261,89) rotate(-30)" font-size="5.4" text-anchor="middle" fill="#555">C/C</text>
<text transform="translate(276.5,88.5) rotate(30)" font-size="5.4" text-anchor="middle" fill="#555">C/C</text>
<circle cx="235.2" cy="25.4" r="0.75" fill="#333"/><circle cx="237.1" cy="28.3" r="0.75" fill="#333"/>
<circle cx="303.59999999999997" cy="25.4" r="0.75" fill="#333"/><circle cx="301.69999999999993" cy="28.3" r="0.75" fill="#333"/>
<circle cx="241.9" cy="36.9" r="0.75" fill="#333"/><circle cx="243.8" cy="39.8" r="0.75" fill="#333"/>
<circle cx="296.9" cy="36.9" r="0.75" fill="#333"/><circle cx="294.99999999999994" cy="39.8" r="0.75" fill="#333"/>
<circle cx="249.6" cy="61" r="0.75" fill="#333"/><circle cx="249.6" cy="64.8" r="0.75" fill="#333"/>
<circle cx="289.19999999999993" cy="61" r="0.75" fill="#333"/><circle cx="289.19999999999993" cy="64.8" r="0.75" fill="#333"/>
<circle cx="254.4" cy="81.2" r="0.75" fill="#333"/><circle cx="256.3" cy="84" r="0.75" fill="#333"/>
<circle cx="284.4" cy="81.2" r="0.75" fill="#333"/><circle cx="282.49999999999994" cy="84" r="0.75" fill="#333"/>
<circle cx="262.1" cy="98.5" r="0.75" fill="#333"/><circle cx="263" cy="101.3" r="0.75" fill="#333"/>
<circle cx="276.69999999999993" cy="98.5" r="0.75" fill="#333"/><circle cx="275.79999999999995" cy="101.3" r="0.75" fill="#333"/>
<circle cx="266.2" cy="112.1" r="0.75" fill="#333"/><circle cx="266.2" cy="112.1" r="0.75" fill="#333"/>
<circle cx="272.59999999999997" cy="112.1" r="0.75" fill="#333"/><circle cx="272.59999999999997" cy="112.1" r="0.75" fill="#333"/>
<text x="260" y="174.2" font-size="7" text-anchor="middle" fill="#555" >C</text>
<text x="276.7" y="174.2" font-size="7" text-anchor="middle" fill="#555" >C</text>
<text x="248.8" y="185.5" font-size="7.6" text-anchor="start" fill="#222" textLength="40" lengthAdjust="spacingAndGlyphs" >TpoR Cys less</text>
<text x="18.7" y="553.2" font-size="7.4" text-anchor="start" fill="#333" textLength="25" lengthAdjust="spacingAndGlyphs" >SAMPLE</text>
<rect x="18.6" y="557.7" width="5.8" height="5.8" fill="none" stroke="#6e3a7c" stroke-width="1.1"/>
<text x="27" y="563.1" font-size="6.8" text-anchor="start" fill="#333" textLength="23.2" lengthAdjust="spacingAndGlyphs" >Control</text>
<rect x="18.6" y="567.7" width="5.8" height="5.8" fill="none" stroke="#c0303c" stroke-width="1.1"/>
<text x="27" y="573.1" font-size="6.8" text-anchor="start" fill="#333" textLength="4.5" lengthAdjust="spacingAndGlyphs" >Ø</text>
<rect x="18.6" y="576.9" width="5.8" height="5.8" fill="none" stroke="#3a5aa0" stroke-width="1.1"/>
<text x="27" y="582.3" font-size="6.8" text-anchor="start" fill="#333" textLength="27.5" lengthAdjust="spacingAndGlyphs" >CALR WT</text>
<rect x="18.6" y="586.7" width="5.8" height="5.8" fill="none" stroke="#62b04a" stroke-width="1.1"/>
<text x="27" y="592.1" font-size="6.8" text-anchor="start" fill="#333" textLength="35" lengthAdjust="spacingAndGlyphs" >CALR del52</text>
<rect x="18.6" y="596.7" width="5.8" height="5.8" fill="none" stroke="#f2b01e" stroke-width="1.1"/>
<text x="27" y="602.1" font-size="6.8" text-anchor="start" fill="#333" textLength="30.5" lengthAdjust="spacingAndGlyphs" >CALR Ins5</text>
<rect x="111.3" y="526.3" width="79.7" height="87.30000000000007" fill="none" stroke="#111" stroke-width="1.2"/>
<text x="151.25" y="521.2" font-size="6.6" text-anchor="middle" fill="#222" textLength="26.5" lengthAdjust="spacingAndGlyphs" >TpoR WT</text>
<line x1="108.3" y1="613.6" x2="111.3" y2="613.6" stroke="#111" stroke-width="0.9" />
<text x="106.3" y="616.1" font-size="7.2" text-anchor="end" fill="#222" textLength="4.0" lengthAdjust="spacingAndGlyphs" >0</text>
<line x1="108.3" y1="596.88" x2="111.3" y2="596.88" stroke="#111" stroke-width="0.9" />
<text x="106.3" y="599.38" font-size="7.2" text-anchor="end" fill="#222" textLength="8.0" lengthAdjust="spacingAndGlyphs" >20</text>
<line x1="108.3" y1="580.16" x2="111.3" y2="580.16" stroke="#111" stroke-width="0.9" />
<text x="106.3" y="582.66" font-size="7.2" text-anchor="end" fill="#222" textLength="8.0" lengthAdjust="spacingAndGlyphs" >40</text>
<line x1="108.3" y1="563.44" x2="111.3" y2="563.44" stroke="#111" stroke-width="0.9" />
<text x="106.3" y="565.94" font-size="7.2" text-anchor="end" fill="#222" textLength="8.0" lengthAdjust="spacingAndGlyphs" >60</text>
<line x1="108.3" y1="546.72" x2="111.3" y2="546.72" stroke="#111" stroke-width="0.9" />
<text x="106.3" y="549.22" font-size="7.2" text-anchor="end" fill="#222" textLength="8.0" lengthAdjust="spacingAndGlyphs" >80</text>
<line x1="108.3" y1="530.0" x2="111.3" y2="530.0" stroke="#111" stroke-width="0.9" />
<text x="106.3" y="532.5" font-size="7.2" text-anchor="end" fill="#222" textLength="11.5" lengthAdjust="spacingAndGlyphs" >100</text>
<line x1="111.3" y1="605.24" x2="113.1" y2="605.24" stroke="#111" stroke-width="0.6" />
<line x1="111.3" y1="588.52" x2="113.1" y2="588.52" stroke="#111" stroke-width="0.6" />
<line x1="111.3" y1="571.8" x2="113.1" y2="571.8" stroke="#111" stroke-width="0.6" />
<line x1="111.3" y1="555.08" x2="113.1" y2="555.08" stroke="#111" stroke-width="0.6" />
<line x1="111.3" y1="538.36" x2="113.1" y2="538.36" stroke="#111" stroke-width="0.6" />
<line x1="111.3" y1="609.4200000000001" x2="112.3" y2="609.4200000000001" stroke="#111" stroke-width="0.5" />
<line x1="111.3" y1="601.0600000000001" x2="112.3" y2="601.0600000000001" stroke="#111" stroke-width="0.5" />
<line x1="111.3" y1="592.7" x2="112.3" y2="592.7" stroke="#111" stroke-width="0.5" />
<line x1="111.3" y1="584.34" x2="112.3" y2="584.34" stroke="#111" stroke-width="0.5" />
<line x1="111.3" y1="575.98" x2="112.3" y2="575.98" stroke="#111" stroke-width="0.5" />
<line x1="111.3" y1="567.62" x2="112.3" y2="567.62" stroke="#111" stroke-width="0.5" />
<line x1="111.3" y1="559.26" x2="112.3" y2="559.26" stroke="#111" stroke-width="0.5" />
<line x1="111.3" y1="550.9" x2="112.3" y2="550.9" stroke="#111" stroke-width="0.5" />
<line x1="111.3" y1="542.54" x2="112.3" y2="542.54" stroke="#111" stroke-width="0.5" />
<line x1="111.3" y1="534.1800000000001" x2="112.3" y2="534.1800000000001" stroke="#111" stroke-width="0.5" />
<line x1="114.2" y1="613.6" x2="114.2" y2="615.6" stroke="#111" stroke-width="0.9" />
<text x="109.9" y="627.6" font-size="8.6" fill="#333" textLength="6.2" lengthAdjust="spacingAndGlyphs">10</text>
<text x="115.9" y="624.1" font-size="4.6" fill="#333">0</text>
<line x1="118.50472893799494" y1="612.0" x2="118.50472893799494" y2="613.6" stroke="#111" stroke-width="0.5" />
<line x1="121.02283394249118" y1="612.0" x2="121.02283394249118" y2="613.6" stroke="#111" stroke-width="0.5" />
<line x1="122.80945787598986" y1="612.0" x2="122.80945787598986" y2="613.6" stroke="#111" stroke-width="0.5" />
<line x1="124.19527106200508" y1="612.0" x2="124.19527106200508" y2="613.6" stroke="#111" stroke-width="0.5" />
<line x1="125.32756288048611" y1="612.0" x2="125.32756288048611" y2="613.6" stroke="#111" stroke-width="0.5" />
<line x1="126.28490197220387" y1="612.0" x2="126.28490197220387" y2="613.6" stroke="#111" stroke-width="0.5" />
<line x1="127.1141868139848" y1="612.0" x2="127.1141868139848" y2="613.6" stroke="#111" stroke-width="0.5" />
<line x1="127.84566788498235" y1="612.0" x2="127.84566788498235" y2="613.6" stroke="#111" stroke-width="0.5" />
<line x1="128.5" y1="613.6" x2="128.5" y2="615.6" stroke="#111" stroke-width="0.9" />
<text x="124.2" y="627.6" font-size="8.6" fill="#333" textLength="6.2" lengthAdjust="spacingAndGlyphs">10</text>
<text x="130.2" y="624.1" font-size="4.6" fill="#333">1</text>
<line x1="132.80472893799492" y1="612.0" x2="132.80472893799492" y2="613.6" stroke="#111" stroke-width="0.5" />
<line x1="135.32283394249117" y1="612.0" x2="135.32283394249117" y2="613.6" stroke="#111" stroke-width="0.5" />
<line x1="137.10945787598988" y1="612.0" x2="137.10945787598988" y2="613.6" stroke="#111" stroke-width="0.5" />
<line x1="138.49527106200506" y1="612.0" x2="138.49527106200506" y2="613.6" stroke="#111" stroke-width="0.5" />
<line x1="139.6275628804861" y1="612.0" x2="139.6275628804861" y2="613.6" stroke="#111" stroke-width="0.5" />
<line x1="140.58490197220388" y1="612.0" x2="140.58490197220388" y2="613.6" stroke="#111" stroke-width="0.5" />
<line x1="141.4141868139848" y1="612.0" x2="141.4141868139848" y2="613.6" stroke="#111" stroke-width="0.5" />
<line x1="142.14566788498234" y1="612.0" x2="142.14566788498234" y2="613.6" stroke="#111" stroke-width="0.5" />
<line x1="142.8" y1="613.6" x2="142.8" y2="615.6" stroke="#111" stroke-width="0.9" />
<text x="138.5" y="627.6" font-size="8.6" fill="#333" textLength="6.2" lengthAdjust="spacingAndGlyphs">10</text>
<text x="144.5" y="624.1" font-size="4.6" fill="#333">2</text>
<line x1="147.10472893799493" y1="612.0" x2="147.10472893799493" y2="613.6" stroke="#111" stroke-width="0.5" />
<line x1="149.62283394249118" y1="612.0" x2="149.62283394249118" y2="613.6" stroke="#111" stroke-width="0.5" />
<line x1="151.4094578759899" y1="612.0" x2="151.4094578759899" y2="613.6" stroke="#111" stroke-width="0.5" />
<line x1="152.79527106200507" y1="612.0" x2="152.79527106200507" y2="613.6" stroke="#111" stroke-width="0.5" />
<line x1="153.9275628804861" y1="612.0" x2="153.9275628804861" y2="613.6" stroke="#111" stroke-width="0.5" />
<line x1="154.8849019722039" y1="612.0" x2="154.8849019722039" y2="613.6" stroke="#111" stroke-width="0.5" />
<line x1="155.7141868139848" y1="612.0" x2="155.7141868139848" y2="613.6" stroke="#111" stroke-width="0.5" />
<line x1="156.44566788498236" y1="612.0" x2="156.44566788498236" y2="613.6" stroke="#111" stroke-width="0.5" />
<line x1="157.10000000000002" y1="613.6" x2="157.10000000000002" y2="615.6" stroke="#111" stroke-width="0.9" />
<text x="152.8" y="627.6" font-size="8.6" fill="#333" textLength="6.2" lengthAdjust="spacingAndGlyphs">10</text>
<text x="158.8" y="624.1" font-size="4.6" fill="#333">3</text>
<line x1="161.40472893799495" y1="612.0" x2="161.40472893799495" y2="613.6" stroke="#111" stroke-width="0.5" />
<line x1="163.9228339424912" y1="612.0" x2="163.9228339424912" y2="613.6" stroke="#111" stroke-width="0.5" />
<line x1="165.7094578759899" y1="612.0" x2="165.7094578759899" y2="613.6" stroke="#111" stroke-width="0.5" />
<line x1="167.09527106200508" y1="612.0" x2="167.09527106200508" y2="613.6" stroke="#111" stroke-width="0.5" />
<line x1="168.22756288048612" y1="612.0" x2="168.22756288048612" y2="613.6" stroke="#111" stroke-width="0.5" />
<line x1="169.1849019722039" y1="612.0" x2="169.1849019722039" y2="613.6" stroke="#111" stroke-width="0.5" />
<line x1="170.01418681398482" y1="612.0" x2="170.01418681398482" y2="613.6" stroke="#111" stroke-width="0.5" />
<line x1="170.74566788498237" y1="612.0" x2="170.74566788498237" y2="613.6" stroke="#111" stroke-width="0.5" />
<line x1="171.4" y1="613.6" x2="171.4" y2="615.6" stroke="#111" stroke-width="0.9" />
<text x="167.1" y="627.6" font-size="8.6" fill="#333" textLength="6.2" lengthAdjust="spacingAndGlyphs">10</text>
<text x="173.1" y="624.1" font-size="4.6" fill="#333">4</text>
<line x1="175.70472893799493" y1="612.0" x2="175.70472893799493" y2="613.6" stroke="#111" stroke-width="0.5" />
<line x1="178.22283394249118" y1="612.0" x2="178.22283394249118" y2="613.6" stroke="#111" stroke-width="0.5" />
<line x1="180.00945787598988" y1="612.0" x2="180.00945787598988" y2="613.6" stroke="#111" stroke-width="0.5" />
<line x1="181.39527106200507" y1="612.0" x2="181.39527106200507" y2="613.6" stroke="#111" stroke-width="0.5" />
<line x1="182.5275628804861" y1="612.0" x2="182.5275628804861" y2="613.6" stroke="#111" stroke-width="0.5" />
<line x1="183.4849019722039" y1="612.0" x2="183.4849019722039" y2="613.6" stroke="#111" stroke-width="0.5" />
<line x1="184.3141868139848" y1="612.0" x2="184.3141868139848" y2="613.6" stroke="#111" stroke-width="0.5" />
<line x1="185.04566788498235" y1="612.0" x2="185.04566788498235" y2="613.6" stroke="#111" stroke-width="0.5" />
<line x1="185.7" y1="613.6" x2="185.7" y2="615.6" stroke="#111" stroke-width="0.9" />
<text x="181.39999999999998" y="627.6" font-size="8.6" fill="#333" textLength="6.2" lengthAdjust="spacingAndGlyphs">10</text>
<text x="187.39999999999998" y="624.1" font-size="4.6" fill="#333">5</text>
<text transform="translate(86.4,570.2) rotate(-90)" font-size="9.6" text-anchor="middle" fill="#222" textLength="85" lengthAdjust="spacingAndGlyphs">Normalized to mode</text>
<text x="151.25" y="641.8" font-size="10.4" text-anchor="middle" fill="#222" textLength="35" lengthAdjust="spacingAndGlyphs" >TpoR- PE</text>
<polyline points="111.90,613.60 111.90,613.59 111.99,613.58 112.32,613.55 112.65,613.52 112.97,613.47 113.30,613.42 113.63,613.37 113.95,613.31 114.28,613.25 114.61,613.19 114.94,613.13 115.26,613.08 115.59,613.03 115.92,613.00 116.24,612.96 116.57,612.94 116.90,612.93 117.22,612.93 117.55,612.90 117.88,612.86 118.20,612.79 118.53,612.70 118.86,612.60 119.18,612.48 119.51,612.35 119.84,612.21 120.17,612.06 120.49,612.65 120.82,611.07 121.15,611.10 121.47,612.00 121.80,611.40 122.13,611.39 122.45,610.90 122.78,610.57 123.11,611.92 123.43,612.04 123.76,610.37 124.09,611.01 124.41,610.05 124.74,611.18 125.07,609.84 125.39,608.81 125.72,609.33 126.05,607.48 126.38,607.24 126.70,608.78 127.03,608.70 127.36,607.56 127.68,606.37 128.01,606.86 128.34,606.36 128.66,604.98 128.99,604.74 129.32,603.33 129.64,601.97 129.97,601.09 130.30,601.08 130.62,600.80 130.95,600.71 131.28,599.60 131.61,598.85 131.93,598.12 132.26,595.35 132.59,595.22 132.91,594.86 133.24,595.04 133.57,591.96 133.89,590.26 134.22,589.59 134.55,587.16 134.87,584.84 135.20,584.02 135.53,583.28 135.85,582.87 136.18,579.43 136.51,576.41 136.83,573.67 137.16,570.09 137.49,567.50 137.82,566.92 138.14,567.03 138.47,565.38 138.80,564.44 139.12,561.86 139.45,558.96 139.78,558.73 140.10,558.91 140.43,556.88 140.76,554.30 141.08,551.61 141.41,549.60 141.74,547.58 142.06,546.71 142.39,545.39 142.72,543.63 143.05,540.78 143.37,537.56 143.70,536.45 144.03,535.97 144.35,535.55 144.68,536.44 145.01,538.13 145.33,539.58 145.66,543.62 145.99,546.55 146.31,546.66 146.64,548.83 146.97,553.16 147.29,558.00 147.62,565.66 147.95,571.60 148.27,576.51 148.60,581.58 148.93,584.13 149.26,585.22 149.58,587.76 149.91,591.85 150.24,598.47 150.56,599.49 150.89,600.20 151.22,602.61 151.54,605.58 151.87,606.31 152.20,607.48 152.52,608.65 152.85,610.40 153.18,612.33 153.50,611.18 153.83,612.01 154.16,612.26 154.49,612.63 154.81,613.02 155.14,613.36 155.47,613.56 155.79,613.60 156.12,613.60 156.45,613.60 156.77,613.60 157.10,613.60" fill="none" stroke="#6e3a7c" stroke-width="0.95" stroke-linejoin="round"/>
<polyline points="151.38,613.60 151.56,613.58 151.74,613.52 151.92,613.42 152.09,613.28 152.27,613.11 152.45,612.91 152.63,612.69 152.81,612.44 152.99,612.19 153.17,611.93 153.35,610.75 153.53,610.51 153.70,612.06 153.88,611.78 154.06,610.07 154.24,610.10 154.42,610.10 154.60,610.72 154.78,610.06 154.96,610.04 155.13,610.00 155.31,610.57 155.49,609.58 155.67,609.03 155.85,607.60 156.03,606.16 156.21,605.25 156.38,604.97 156.56,604.02 156.74,603.20 156.92,602.49 157.10,601.36 157.28,599.39 157.46,598.67 157.64,597.65 157.81,595.86 157.99,595.98 158.17,595.45 158.35,595.83 158.53,596.16 158.71,595.25 158.89,594.73 159.07,592.51 159.25,589.56 159.42,587.80 159.60,586.04 159.78,581.63 159.96,578.73 160.14,575.75 160.32,572.43 160.50,569.97 160.68,567.51 160.85,566.41 161.03,563.68 161.21,562.82 161.39,564.12 161.57,562.70 161.75,562.09 161.93,561.47 162.10,559.81 162.28,558.01 162.46,554.97 162.64,553.43 162.82,550.23 163.00,548.58 163.18,544.93 163.36,542.41 163.53,540.98 163.71,538.71 163.89,536.25 164.07,535.28 164.25,534.80 164.43,534.82 164.61,534.57 164.79,534.21 164.97,536.06 165.14,535.60 165.32,538.03 165.50,537.81 165.68,539.86 165.86,539.03 166.04,539.67 166.22,540.66 166.40,541.84 166.57,543.35 166.75,545.74 166.93,548.92 167.11,552.02 167.29,554.40 167.47,556.53 167.65,559.95 167.82,563.54 168.00,564.13 168.18,565.87 168.36,566.48 168.54,568.24 168.72,567.60 168.90,570.35 169.08,571.35 169.25,574.97 169.43,578.39 169.61,580.66 169.79,585.77 169.97,588.27 170.15,590.46 170.33,593.87 170.51,595.32 170.69,594.44 170.86,595.51 171.04,595.35 171.22,597.42 171.40,597.69 171.58,599.21 171.76,599.51 171.94,602.10 172.12,601.82 172.29,605.15 172.47,605.15 172.65,607.87 172.83,608.54 173.01,608.36 173.19,610.37 173.37,610.75 173.55,609.87 173.72,610.52 173.90,611.30 174.08,609.55 174.26,611.45 174.44,611.93 174.62,611.60 174.80,611.37 174.98,611.93 175.15,612.25 175.33,612.57 175.51,612.86 175.69,613.11 175.87,613.32 176.05,613.47 176.23,613.57 176.41,613.60" fill="none" stroke="#62b04a" stroke-width="0.95" stroke-linejoin="round"/>
<polyline points="151.38,613.60 151.57,613.58 151.77,613.54 151.96,613.46 152.16,613.36 152.35,613.22 152.54,613.07 152.74,612.89 152.93,612.68 153.13,612.46 153.32,612.23 153.51,611.99 153.71,612.26 153.90,611.39 154.10,611.49 154.29,610.77 154.49,610.49 154.68,611.38 154.87,611.27 155.07,609.42 155.26,610.40 155.46,610.30 155.65,608.64 155.84,609.60 156.04,608.79 156.23,609.48 156.43,609.14 156.62,609.94 156.81,608.56 157.01,607.46 157.20,607.31 157.40,605.85 157.59,604.81 157.78,604.73 157.98,601.96 158.17,600.88 158.37,600.04 158.56,599.20 158.75,596.23 158.95,595.84 159.14,594.33 159.34,593.16 159.53,592.86 159.73,592.03 159.92,592.92 160.11,591.93 160.31,591.94 160.50,589.74 160.70,588.15 160.89,587.57 161.08,584.98 161.28,582.01 161.47,577.47 161.67,575.37 161.86,571.78 162.05,569.29 162.25,565.87 162.44,563.34 162.64,560.95 162.83,558.40 163.02,556.77 163.22,554.99 163.41,554.82 163.61,554.19 163.80,554.02 163.99,553.06 164.19,552.69 164.38,552.38 164.58,549.40 164.77,547.41 164.97,545.61 165.16,544.29 165.35,541.99 165.55,541.05 165.74,537.99 165.94,536.88 166.13,536.08 166.32,535.44 166.52,533.10 166.71,532.42 166.91,534.22 167.10,533.31 167.29,535.12 167.49,537.04 167.68,538.36 167.88,539.00 168.07,540.19 168.26,542.88 168.46,542.26 168.65,543.59 168.85,543.11 169.04,545.52 169.23,546.73 169.43,549.37 169.62,553.55 169.82,555.99 170.01,560.81 170.20,564.53 170.40,566.37 170.59,569.88 170.79,571.26 170.98,571.79 171.18,571.62 171.37,573.21 171.56,574.91 171.76,575.43 171.95,579.27 172.15,581.11 172.34,584.56 172.53,588.91 172.73,591.84 172.92,594.40 173.12,596.26 173.31,597.75 173.50,598.41 173.70,598.40 173.89,598.12 174.09,599.61 174.28,600.63 174.47,601.10 174.67,603.28 174.86,604.45 175.06,604.43 175.25,606.65 175.44,607.82 175.64,609.98 175.83,610.06 176.03,610.40 176.22,611.93 176.42,610.86 176.61,610.88 176.80,612.18 177.00,611.28 177.19,611.90 177.39,612.18 177.58,612.53 177.77,612.87 177.97,613.17 178.16,613.40 178.36,613.55 178.55,613.60" fill="none" stroke="#f2b01e" stroke-width="0.95" stroke-linejoin="round"/>
<polyline points="151.38,613.60 151.58,613.58 151.78,613.54 151.98,613.45 152.18,613.34 152.38,613.20 152.58,613.04 152.77,612.85 152.97,612.64 153.17,612.41 153.37,612.17 153.57,612.45 153.77,612.45 153.97,611.60 154.17,611.83 154.37,611.75 154.57,610.84 154.77,609.57 154.97,609.59 155.16,609.47 155.36,610.39 155.56,609.62 155.76,610.03 155.96,610.15 156.16,610.23 156.36,609.99 156.56,608.47 156.76,608.34 156.96,607.82 157.16,607.06 157.36,607.32 157.55,605.96 157.75,604.08 157.95,602.54 158.15,600.91 158.35,599.47 158.55,599.72 158.75,597.41 158.95,596.13 159.15,595.46 159.35,595.31 159.55,594.11 159.75,594.50 159.94,592.66 160.14,592.56 160.34,592.41 160.54,591.58 160.74,588.55 160.94,586.97 161.14,583.74 161.34,580.91 161.54,578.49 161.74,575.48 161.94,571.91 162.14,569.13 162.33,566.75 162.53,563.81 162.73,560.50 162.93,560.19 163.13,558.81 163.33,556.79 163.53,557.19 163.73,556.54 163.93,556.22 164.13,555.73 164.33,553.41 164.53,553.76 164.72,551.86 164.92,550.63 165.12,548.00 165.32,546.86 165.52,544.80 165.72,542.14 165.92,541.18 166.12,538.99 166.32,536.75 166.52,537.01 166.72,535.97 166.92,534.77 167.12,533.12 167.31,533.14 167.51,533.95 167.71,534.27 167.91,535.48 168.11,536.12 168.31,538.33 168.51,538.41 168.71,539.25 168.91,540.09 169.11,541.10 169.31,540.82 169.51,543.53 169.70,544.83 169.90,546.19 170.10,549.92 170.30,554.36 170.50,557.03 170.70,561.15 170.90,563.65 171.10,566.79 171.30,568.09 171.50,567.82 171.70,569.16 171.90,570.09 172.09,570.98 172.29,574.83 172.49,578.47 172.69,581.67 172.89,584.79 173.09,586.88 173.29,590.84 173.49,593.75 173.69,596.41 173.89,596.31 174.09,598.42 174.29,599.14 174.48,599.63 174.68,600.11 174.88,600.63 175.08,600.59 175.28,602.80 175.48,604.31 175.68,604.77 175.88,606.62 176.08,606.42 176.28,609.35 176.48,609.53 176.68,609.81 176.87,611.05 177.07,610.11 177.27,611.17 177.47,611.77 177.67,611.66 177.87,612.71 178.07,612.12 178.27,612.49 178.47,612.84 178.67,613.15 178.87,613.39 179.07,613.55 179.26,613.60" fill="none" stroke="#c0303c" stroke-width="0.95" stroke-linejoin="round"/>
<polyline points="152.81,613.60 153.01,613.58 153.21,613.54 153.41,613.45 153.61,613.34 153.81,613.20 154.01,613.04 154.20,612.85 154.40,612.64 154.60,612.41 154.80,612.17 155.00,611.67 155.20,611.17 155.40,610.80 155.60,610.25 155.80,610.40 156.00,609.79 156.20,611.35 156.40,610.27 156.59,609.11 156.79,609.54 156.99,608.89 157.19,610.35 157.39,609.56 157.59,609.95 157.79,609.33 157.99,609.18 158.19,609.97 158.39,609.01 158.59,608.11 158.79,605.87 158.98,605.05 159.18,605.02 159.38,602.40 159.58,602.35 159.78,600.00 159.98,599.64 160.18,598.62 160.38,595.73 160.58,596.06 160.78,595.23 160.98,593.09 161.18,592.93 161.37,593.96 161.57,592.38 161.77,592.47 161.97,590.93 162.17,590.15 162.37,586.53 162.57,584.53 162.77,581.21 162.97,578.40 163.17,576.54 163.37,573.36 163.57,570.78 163.76,568.03 163.96,565.66 164.16,563.00 164.36,560.62 164.56,560.51 164.76,558.35 164.96,558.75 165.16,558.68 165.36,557.29 165.56,557.34 165.76,556.81 165.96,555.41 166.15,553.69 166.35,553.56 166.55,550.15 166.75,550.40 166.95,547.20 167.15,545.25 167.35,545.15 167.55,541.89 167.75,541.11 167.95,539.17 168.15,538.94 168.35,537.68 168.55,536.42 168.74,534.10 168.94,535.10 169.14,533.71 169.34,533.36 169.54,533.72 169.74,535.69 169.94,536.72 170.14,537.60 170.34,538.35 170.54,540.84 170.74,540.46 170.94,540.94 171.13,540.99 171.33,543.15 171.53,542.66 171.73,546.44 171.93,548.60 172.13,551.14 172.33,553.82 172.53,558.28 172.73,560.19 172.93,563.61 173.13,566.14 173.33,567.47 173.52,568.26 173.72,568.76 173.92,569.64 174.12,570.25 174.32,571.91 174.52,576.36 174.72,579.71 174.92,581.16 175.12,585.44 175.32,588.95 175.52,592.28 175.72,594.14 175.91,595.71 176.11,597.86 176.31,598.63 176.51,599.52 176.71,598.30 176.91,601.02 177.11,601.42 177.31,602.30 177.51,605.41 177.71,605.87 177.91,606.94 178.11,608.80 178.30,609.30 178.50,611.03 178.70,610.43 178.90,611.18 179.10,610.08 179.30,611.58 179.50,611.72 179.70,612.12 179.90,612.59 180.10,613.00 180.30,613.32 180.50,613.53 180.69,613.60" fill="none" stroke="#3a5aa0" stroke-width="0.95" stroke-linejoin="round"/>
<rect x="242.7" y="526.5" width="82.30000000000001" height="86.60000000000002" fill="none" stroke="#111" stroke-width="1.2"/>
<text x="283.9" y="521.2" font-size="6.6" text-anchor="middle" fill="#222" textLength="35.3" lengthAdjust="spacingAndGlyphs" >TpoR P106L</text>
<line x1="239.7" y1="613.1" x2="242.7" y2="613.1" stroke="#111" stroke-width="0.9" />
<text x="237.7" y="615.6" font-size="7.2" text-anchor="end" fill="#222" textLength="4.0" lengthAdjust="spacingAndGlyphs" >0</text>
<line x1="239.7" y1="596.48" x2="242.7" y2="596.48" stroke="#111" stroke-width="0.9" />
<text x="237.7" y="598.98" font-size="7.2" text-anchor="end" fill="#222" textLength="8.0" lengthAdjust="spacingAndGlyphs" >20</text>
<line x1="239.7" y1="579.86" x2="242.7" y2="579.86" stroke="#111" stroke-width="0.9" />
<text x="237.7" y="582.36" font-size="7.2" text-anchor="end" fill="#222" textLength="8.0" lengthAdjust="spacingAndGlyphs" >40</text>
<line x1="239.7" y1="563.24" x2="242.7" y2="563.24" stroke="#111" stroke-width="0.9" />
<text x="237.7" y="565.74" font-size="7.2" text-anchor="end" fill="#222" textLength="8.0" lengthAdjust="spacingAndGlyphs" >60</text>
<line x1="239.7" y1="546.62" x2="242.7" y2="546.62" stroke="#111" stroke-width="0.9" />
<text x="237.7" y="549.12" font-size="7.2" text-anchor="end" fill="#222" textLength="8.0" lengthAdjust="spacingAndGlyphs" >80</text>
<line x1="239.7" y1="530.0" x2="242.7" y2="530.0" stroke="#111" stroke-width="0.9" />
<text x="237.7" y="532.5" font-size="7.2" text-anchor="end" fill="#222" textLength="11.5" lengthAdjust="spacingAndGlyphs" >100</text>
<line x1="242.7" y1="604.79" x2="244.5" y2="604.79" stroke="#111" stroke-width="0.6" />
<line x1="242.7" y1="588.17" x2="244.5" y2="588.17" stroke="#111" stroke-width="0.6" />
<line x1="242.7" y1="571.55" x2="244.5" y2="571.55" stroke="#111" stroke-width="0.6" />
<line x1="242.7" y1="554.9300000000001" x2="244.5" y2="554.9300000000001" stroke="#111" stroke-width="0.6" />
<line x1="242.7" y1="538.31" x2="244.5" y2="538.31" stroke="#111" stroke-width="0.6" />
<line x1="242.7" y1="608.945" x2="243.7" y2="608.945" stroke="#111" stroke-width="0.5" />
<line x1="242.7" y1="600.635" x2="243.7" y2="600.635" stroke="#111" stroke-width="0.5" />
<line x1="242.7" y1="592.325" x2="243.7" y2="592.325" stroke="#111" stroke-width="0.5" />
<line x1="242.7" y1="584.015" x2="243.7" y2="584.015" stroke="#111" stroke-width="0.5" />
<line x1="242.7" y1="575.705" x2="243.7" y2="575.705" stroke="#111" stroke-width="0.5" />
<line x1="242.7" y1="567.395" x2="243.7" y2="567.395" stroke="#111" stroke-width="0.5" />
<line x1="242.7" y1="559.085" x2="243.7" y2="559.085" stroke="#111" stroke-width="0.5" />
<line x1="242.7" y1="550.775" x2="243.7" y2="550.775" stroke="#111" stroke-width="0.5" />
<line x1="242.7" y1="542.465" x2="243.7" y2="542.465" stroke="#111" stroke-width="0.5" />
<line x1="242.7" y1="534.155" x2="243.7" y2="534.155" stroke="#111" stroke-width="0.5" />
<line x1="247.5" y1="613.1" x2="247.5" y2="615.1" stroke="#111" stroke-width="0.9" />
<text x="243.2" y="627.1" font-size="8.6" fill="#333" textLength="6.2" lengthAdjust="spacingAndGlyphs">10</text>
<text x="249.2" y="623.6" font-size="4.6" fill="#333">0</text>
<line x1="251.71441993929574" y1="611.5" x2="251.71441993929574" y2="613.1" stroke="#111" stroke-width="0.5" />
<line x1="254.17969756607528" y1="611.5" x2="254.17969756607528" y2="613.1" stroke="#111" stroke-width="0.5" />
<line x1="255.92883987859148" y1="611.5" x2="255.92883987859148" y2="613.1" stroke="#111" stroke-width="0.5" />
<line x1="257.28558006070426" y1="611.5" x2="257.28558006070426" y2="613.1" stroke="#111" stroke-width="0.5" />
<line x1="258.394117505371" y1="611.5" x2="258.394117505371" y2="613.1" stroke="#111" stroke-width="0.5" />
<line x1="259.3313725601996" y1="611.5" x2="259.3313725601996" y2="613.1" stroke="#111" stroke-width="0.5" />
<line x1="260.1432598178872" y1="611.5" x2="260.1432598178872" y2="613.1" stroke="#111" stroke-width="0.5" />
<line x1="260.85939513215055" y1="611.5" x2="260.85939513215055" y2="613.1" stroke="#111" stroke-width="0.5" />
<line x1="261.5" y1="613.1" x2="261.5" y2="615.1" stroke="#111" stroke-width="0.9" />
<text x="257.2" y="627.1" font-size="8.6" fill="#333" textLength="6.2" lengthAdjust="spacingAndGlyphs">10</text>
<text x="263.2" y="623.6" font-size="4.6" fill="#333">1</text>
<line x1="265.71441993929574" y1="611.5" x2="265.71441993929574" y2="613.1" stroke="#111" stroke-width="0.5" />
<line x1="268.1796975660753" y1="611.5" x2="268.1796975660753" y2="613.1" stroke="#111" stroke-width="0.5" />
<line x1="269.9288398785915" y1="611.5" x2="269.9288398785915" y2="613.1" stroke="#111" stroke-width="0.5" />
<line x1="271.28558006070426" y1="611.5" x2="271.28558006070426" y2="613.1" stroke="#111" stroke-width="0.5" />
<line x1="272.394117505371" y1="611.5" x2="272.394117505371" y2="613.1" stroke="#111" stroke-width="0.5" />
<line x1="273.3313725601996" y1="611.5" x2="273.3313725601996" y2="613.1" stroke="#111" stroke-width="0.5" />
<line x1="274.1432598178872" y1="611.5" x2="274.1432598178872" y2="613.1" stroke="#111" stroke-width="0.5" />
<line x1="274.85939513215055" y1="611.5" x2="274.85939513215055" y2="613.1" stroke="#111" stroke-width="0.5" />
<line x1="275.5" y1="613.1" x2="275.5" y2="615.1" stroke="#111" stroke-width="0.9" />
<text x="271.2" y="627.1" font-size="8.6" fill="#333" textLength="6.2" lengthAdjust="spacingAndGlyphs">10</text>
<text x="277.2" y="623.6" font-size="4.6" fill="#333">2</text>
<line x1="279.71441993929574" y1="611.5" x2="279.71441993929574" y2="613.1" stroke="#111" stroke-width="0.5" />
<line x1="282.1796975660753" y1="611.5" x2="282.1796975660753" y2="613.1" stroke="#111" stroke-width="0.5" />
<line x1="283.9288398785915" y1="611.5" x2="283.9288398785915" y2="613.1" stroke="#111" stroke-width="0.5" />
<line x1="285.28558006070426" y1="611.5" x2="285.28558006070426" y2="613.1" stroke="#111" stroke-width="0.5" />
<line x1="286.394117505371" y1="611.5" x2="286.394117505371" y2="613.1" stroke="#111" stroke-width="0.5" />
<line x1="287.3313725601996" y1="611.5" x2="287.3313725601996" y2="613.1" stroke="#111" stroke-width="0.5" />
<line x1="288.1432598178872" y1="611.5" x2="288.1432598178872" y2="613.1" stroke="#111" stroke-width="0.5" />
<line x1="288.85939513215055" y1="611.5" x2="288.85939513215055" y2="613.1" stroke="#111" stroke-width="0.5" />
<line x1="289.5" y1="613.1" x2="289.5" y2="615.1" stroke="#111" stroke-width="0.9" />
<text x="285.2" y="627.1" font-size="8.6" fill="#333" textLength="6.2" lengthAdjust="spacingAndGlyphs">10</text>
<text x="291.2" y="623.6" font-size="4.6" fill="#333">3</text>
<line x1="293.71441993929574" y1="611.5" x2="293.71441993929574" y2="613.1" stroke="#111" stroke-width="0.5" />
<line x1="296.1796975660753" y1="611.5" x2="296.1796975660753" y2="613.1" stroke="#111" stroke-width="0.5" />
<line x1="297.9288398785915" y1="611.5" x2="297.9288398785915" y2="613.1" stroke="#111" stroke-width="0.5" />
<line x1="299.28558006070426" y1="611.5" x2="299.28558006070426" y2="613.1" stroke="#111" stroke-width="0.5" />
<line x1="300.394117505371" y1="611.5" x2="300.394117505371" y2="613.1" stroke="#111" stroke-width="0.5" />
<line x1="301.3313725601996" y1="611.5" x2="301.3313725601996" y2="613.1" stroke="#111" stroke-width="0.5" />
<line x1="302.1432598178872" y1="611.5" x2="302.1432598178872" y2="613.1" stroke="#111" stroke-width="0.5" />
<line x1="302.85939513215055" y1="611.5" x2="302.85939513215055" y2="613.1" stroke="#111" stroke-width="0.5" />
<line x1="303.5" y1="613.1" x2="303.5" y2="615.1" stroke="#111" stroke-width="0.9" />
<text x="299.2" y="627.1" font-size="8.6" fill="#333" textLength="6.2" lengthAdjust="spacingAndGlyphs">10</text>
<text x="305.2" y="623.6" font-size="4.6" fill="#333">4</text>
<line x1="307.71441993929574" y1="611.5" x2="307.71441993929574" y2="613.1" stroke="#111" stroke-width="0.5" />
<line x1="310.1796975660753" y1="611.5" x2="310.1796975660753" y2="613.1" stroke="#111" stroke-width="0.5" />
<line x1="311.9288398785915" y1="611.5" x2="311.9288398785915" y2="613.1" stroke="#111" stroke-width="0.5" />
<line x1="313.28558006070426" y1="611.5" x2="313.28558006070426" y2="613.1" stroke="#111" stroke-width="0.5" />
<line x1="314.394117505371" y1="611.5" x2="314.394117505371" y2="613.1" stroke="#111" stroke-width="0.5" />
<line x1="315.3313725601996" y1="611.5" x2="315.3313725601996" y2="613.1" stroke="#111" stroke-width="0.5" />
<line x1="316.1432598178872" y1="611.5" x2="316.1432598178872" y2="613.1" stroke="#111" stroke-width="0.5" />
<line x1="316.85939513215055" y1="611.5" x2="316.85939513215055" y2="613.1" stroke="#111" stroke-width="0.5" />
<line x1="317.5" y1="613.1" x2="317.5" y2="615.1" stroke="#111" stroke-width="0.9" />
<text x="313.2" y="627.1" font-size="8.6" fill="#333" textLength="6.2" lengthAdjust="spacingAndGlyphs">10</text>
<text x="319.2" y="623.6" font-size="4.6" fill="#333">5</text>
<text transform="translate(217.9,570.2) rotate(-90)" font-size="9.6" text-anchor="middle" fill="#222" textLength="85" lengthAdjust="spacingAndGlyphs">Normalized to mode</text>
<text x="283.75" y="641.8" font-size="10.4" text-anchor="middle" fill="#222" textLength="35" lengthAdjust="spacingAndGlyphs" >TpoR- PE</text>
<polyline points="243.30,613.10 243.30,611.96 243.30,610.52 243.30,610.44 243.30,611.04 243.30,611.39 243.30,611.77 243.34,610.28 243.64,610.47 243.94,609.67 244.25,610.21 244.56,609.16 244.86,609.90 245.16,608.58 245.47,608.47 245.78,608.86 246.08,608.39 246.38,607.90 246.69,608.69 247.00,607.83 247.30,607.21 247.60,608.21 247.91,607.10 248.22,607.32 248.52,606.93 248.82,607.81 249.13,608.09 249.44,606.42 249.74,606.10 250.04,606.47 250.35,606.80 250.66,606.19 250.96,604.92 251.26,605.21 251.57,603.52 251.88,603.90 252.18,604.37 252.49,603.21 252.79,603.61 253.09,602.33 253.40,602.32 253.71,603.07 254.01,602.67 254.31,602.28 254.62,601.67 254.93,600.83 255.23,602.12 255.53,600.79 255.84,599.60 256.14,599.45 256.45,598.14 256.75,598.41 257.06,596.15 257.37,596.25 257.67,596.54 257.98,595.02 258.28,595.42 258.58,595.47 258.89,594.84 259.19,595.24 259.50,594.40 259.81,592.04 260.11,591.04 260.42,590.92 260.72,587.86 261.02,587.92 261.33,586.04 261.63,583.94 261.94,583.93 262.25,584.39 262.55,583.70 262.86,582.34 263.16,580.92 263.46,576.88 263.77,576.40 264.07,573.53 264.38,571.27 264.69,571.06 264.99,569.69 265.30,570.48 265.60,567.68 265.90,566.04 266.21,564.43 266.51,561.95 266.82,561.07 267.12,559.05 267.43,558.53 267.74,558.96 268.04,558.64 268.35,557.61 268.65,557.75 268.95,558.24 269.26,555.73 269.56,553.83 269.87,549.54 270.18,545.00 270.48,543.11 270.79,541.85 271.09,542.14 271.39,543.85 271.70,547.92 272.00,551.10 272.31,551.71 272.62,551.62 272.92,555.09 273.23,557.74 273.53,560.00 273.83,563.29 274.14,565.75 274.44,565.84 274.75,567.48 275.06,571.74 275.36,575.95 275.67,580.78 275.97,583.37 276.27,585.98 276.58,585.91 276.88,587.41 277.19,590.77 277.50,595.47 277.80,598.15 278.11,600.63 278.41,600.90 278.72,601.51 279.02,602.45 279.32,604.16 279.63,607.48 279.94,609.70 280.24,609.75 280.55,610.68 280.85,610.90 281.15,609.72 281.46,611.46 281.76,610.72 282.07,611.63 282.38,612.02 282.68,612.30 282.99,612.43 283.29,612.55 283.60,612.91 283.90,613.10" fill="none" stroke="#6e3a7c" stroke-width="0.95" stroke-linejoin="round"/>
<polyline points="250.30,613.10 250.59,613.05 250.88,612.91 251.17,612.68 251.46,612.38 251.75,612.05 252.04,611.70 252.33,611.71 252.62,611.75 252.91,610.52 253.20,611.52 253.49,610.54 253.78,610.86 254.07,611.43 254.36,610.47 254.65,611.30 254.94,610.39 255.23,610.96 255.52,610.75 255.81,609.89 256.10,608.89 256.39,610.07 256.68,609.65 256.97,608.62 257.26,607.76 257.55,608.28 257.84,608.43 258.13,607.08 258.42,608.75 258.71,606.98 259.00,607.97 259.29,608.15 259.58,608.12 259.87,607.69 260.16,606.65 260.45,607.90 260.74,606.98 261.03,606.67 261.32,606.92 261.61,606.20 261.90,606.73 262.19,606.23 262.48,605.38 262.77,603.82 263.06,603.69 263.35,603.25 263.64,602.03 263.93,601.62 264.22,601.27 264.51,599.65 264.80,599.25 265.09,599.61 265.38,598.46 265.67,598.14 265.96,597.10 266.25,597.13 266.54,597.83 266.83,596.36 267.12,598.00 267.41,596.89 267.70,595.24 267.99,595.06 268.28,592.68 268.57,591.62 268.86,588.27 269.15,585.97 269.44,584.32 269.73,581.90 270.02,581.49 270.31,579.58 270.60,579.07 270.89,578.87 271.18,578.56 271.47,576.24 271.76,573.66 272.05,571.65 272.34,568.06 272.63,566.12 272.92,562.09 273.21,560.15 273.50,558.30 273.79,558.33 274.08,558.03 274.37,555.19 274.66,551.27 274.95,549.21 275.24,545.69 275.53,544.90 275.82,544.85 276.11,544.75 276.40,543.04 276.69,544.09 276.98,543.78 277.27,543.14 277.56,541.44 277.85,542.01 278.14,540.21 278.43,539.06 278.72,537.76 279.01,537.67 279.30,539.03 279.59,543.78 279.88,547.74 280.17,551.02 280.46,550.88 280.75,552.08 281.04,556.71 281.33,560.78 281.62,565.14 281.91,569.12 282.20,571.38 282.49,572.20 282.78,573.53 283.07,576.09 283.36,578.44 283.65,582.48 283.94,586.33 284.23,589.61 284.52,593.54 284.81,596.23 285.10,597.05 285.39,597.19 285.68,599.34 285.97,599.16 286.26,601.31 286.55,603.24 286.84,605.45 287.13,608.03 287.42,609.29 287.71,610.51 288.00,609.56 288.29,611.01 288.58,611.51 288.87,611.84 289.16,611.83 289.45,612.25 289.74,612.43 290.03,612.51 290.32,612.75 290.61,613.00 290.90,613.10" fill="none" stroke="#c0303c" stroke-width="0.95" stroke-linejoin="round"/>
<polyline points="250.30,613.10 250.59,613.05 250.89,612.90 251.19,612.66 251.48,612.36 251.78,612.02 252.07,611.66 252.37,611.86 252.66,610.10 252.96,611.54 253.25,610.24 253.54,611.43 253.84,611.09 254.13,609.54 254.43,611.04 254.72,610.07 255.02,610.30 255.31,610.15 255.61,609.88 255.91,610.29 256.20,608.81 256.50,610.06 256.79,609.55 257.08,609.74 257.38,609.03 257.68,608.53 257.97,607.33 258.26,608.18 258.56,608.54 258.86,608.10 259.15,606.51 259.44,608.27 259.74,607.09 260.04,607.54 260.33,606.96 260.62,607.53 260.92,606.67 261.21,606.82 261.51,606.20 261.81,605.31 262.10,605.50 262.39,605.87 262.69,605.47 262.99,603.12 263.28,603.42 263.57,603.38 263.87,601.25 264.17,601.36 264.46,600.47 264.75,599.60 265.05,600.27 265.35,599.67 265.64,598.23 265.94,599.38 266.23,597.88 266.52,599.04 266.82,597.77 267.12,597.67 267.41,596.66 267.70,595.88 268.00,595.14 268.30,593.99 268.59,592.09 268.88,589.20 269.18,587.09 269.48,585.92 269.77,582.44 270.06,581.73 270.36,580.24 270.65,580.57 270.95,580.34 271.25,580.08 271.54,577.78 271.83,575.56 272.13,572.40 272.43,569.48 272.72,565.72 273.01,563.23 273.31,563.00 273.61,561.82 273.90,561.83 274.19,559.11 274.49,555.77 274.78,554.20 275.08,550.25 275.38,549.27 275.67,549.25 275.96,547.40 276.26,547.44 276.56,546.79 276.85,545.45 277.14,545.50 277.44,544.85 277.74,543.83 278.03,542.51 278.32,540.73 278.62,540.17 278.92,539.98 279.21,540.27 279.50,541.62 279.80,543.05 280.10,546.07 280.39,547.79 280.69,550.43 280.98,551.09 281.27,550.84 281.57,553.82 281.87,556.03 282.16,558.71 282.45,561.73 282.75,565.19 283.05,568.71 283.34,573.09 283.63,574.93 283.93,579.15 284.23,578.85 284.52,580.46 284.81,579.94 285.11,583.49 285.40,584.38 285.70,588.15 286.00,591.32 286.29,595.70 286.58,599.63 286.88,600.44 287.18,602.91 287.47,603.97 287.76,603.20 288.06,604.04 288.36,605.00 288.65,606.76 288.94,608.06 289.24,608.37 289.53,609.75 289.83,611.30 290.12,611.29 290.42,610.98 290.72,611.61 291.01,612.20 291.31,612.83 291.60,613.10" fill="none" stroke="#3a5aa0" stroke-width="0.95" stroke-linejoin="round"/>
<polyline points="257.30,613.10 257.59,613.05 257.88,612.91 258.17,612.70 258.46,612.43 258.75,612.12 259.04,611.82 259.33,611.54 259.62,611.39 259.91,611.42 260.20,611.83 260.49,610.36 260.78,612.00 261.07,610.90 261.36,609.94 261.65,611.37 261.94,610.18 262.23,609.77 262.52,610.61 262.81,609.59 263.10,608.59 263.39,608.73 263.68,607.81 263.97,608.58 264.26,608.05 264.55,607.96 264.84,606.85 265.13,605.72 265.42,606.12 265.71,605.53 266.00,606.12 266.29,605.26 266.58,606.46 266.87,606.04 267.16,605.24 267.45,605.00 267.74,605.34 268.03,605.64 268.32,604.82 268.61,604.38 268.90,603.62 269.19,601.89 269.48,602.41 269.77,600.33 270.06,599.64 270.35,600.62 270.64,599.35 270.93,598.58 271.22,599.05 271.51,597.88 271.80,596.67 272.09,598.11 272.38,597.08 272.67,597.45 272.96,595.38 273.25,593.23 273.54,593.01 273.83,592.01 274.12,590.94 274.41,589.75 274.70,590.26 274.99,588.83 275.28,586.21 275.57,583.47 275.86,582.85 276.15,581.92 276.44,581.17 276.73,581.16 277.02,577.94 277.31,575.58 277.60,571.01 277.89,566.51 278.18,564.84 278.47,561.10 278.76,559.32 279.05,559.76 279.34,558.65 279.63,555.19 279.92,552.39 280.21,551.10 280.50,547.21 280.79,544.80 281.08,545.49 281.37,544.64 281.66,545.46 281.95,544.35 282.24,543.20 282.53,542.86 282.82,542.11 283.11,543.30 283.40,542.60 283.69,540.77 283.98,540.02 284.27,538.76 284.56,537.43 284.85,535.25 285.14,535.67 285.43,537.77 285.72,539.00 286.01,543.11 286.30,544.89 286.59,545.72 286.88,546.42 287.17,548.77 287.46,552.08 287.75,554.27 288.04,558.68 288.33,560.40 288.62,564.41 288.91,564.55 289.20,565.12 289.49,566.24 289.78,567.42 290.07,570.85 290.36,573.01 290.65,577.03 290.94,580.67 291.23,581.95 291.52,584.99 291.81,585.90 292.10,585.29 292.39,587.69 292.68,589.47 292.97,593.52 293.26,595.55 293.55,600.03 293.84,603.30 294.13,603.53 294.42,606.17 294.71,604.85 295.00,605.51 295.29,607.53 295.58,610.24 295.87,611.59 296.16,611.79 296.45,612.26 296.74,612.33 297.03,612.53 297.32,612.80 297.61,613.02 297.90,613.10" fill="none" stroke="#62b04a" stroke-width="0.95" stroke-linejoin="round"/>
<polyline points="264.30,613.10 264.57,613.08 264.84,613.02 265.11,612.92 265.38,612.81 265.65,612.67 265.92,612.54 266.19,612.43 266.46,612.34 266.73,612.28 267.00,612.27 267.27,612.25 267.54,612.22 267.81,612.16 268.08,612.08 268.35,611.98 268.62,611.87 268.89,611.73 269.16,611.58 269.43,611.27 269.70,611.38 269.97,610.90 270.24,611.44 270.51,610.03 270.78,609.80 271.05,609.93 271.32,610.71 271.59,609.79 271.86,609.97 272.13,609.94 272.40,608.36 272.67,608.10 272.94,609.85 273.21,608.08 273.48,608.47 273.75,608.81 274.02,608.92 274.29,608.08 274.56,608.47 274.83,607.99 275.10,608.01 275.37,608.89 275.64,607.29 275.91,606.37 276.18,605.78 276.45,605.74 276.72,606.02 276.99,605.16 277.26,603.90 277.53,601.26 277.80,601.48 278.07,600.31 278.34,598.25 278.61,598.47 278.88,597.15 279.15,596.62 279.42,596.73 279.69,595.21 279.96,594.35 280.23,595.54 280.50,595.33 280.77,594.45 281.04,594.14 281.31,591.66 281.58,589.02 281.85,586.98 282.12,584.61 282.39,581.23 282.66,579.87 282.93,576.37 283.20,574.31 283.47,571.74 283.74,571.01 284.01,568.47 284.28,569.16 284.55,568.77 284.82,565.66 285.09,561.69 285.36,557.85 285.63,552.73 285.90,548.58 286.17,545.53 286.44,543.89 286.71,544.50 286.98,543.92 287.25,542.25 287.52,541.67 287.79,539.58 288.06,538.33 288.33,537.87 288.60,538.43 288.87,540.03 289.14,541.94 289.41,544.18 289.68,543.01 289.95,544.36 290.22,545.05 290.49,545.80 290.76,545.53 291.03,546.57 291.30,548.96 291.57,550.51 291.84,553.65 292.11,557.23 292.38,559.07 292.65,560.17 292.92,562.08 293.19,562.23 293.46,564.10 293.73,565.14 294.00,567.99 294.27,571.52 294.54,575.16 294.81,578.42 295.08,581.64 295.35,584.09 295.62,586.08 295.89,585.85 296.16,585.70 296.43,588.70 296.70,592.15 296.97,595.44 297.24,597.81 297.51,602.06 297.78,604.79 298.05,606.82 298.32,607.23 298.59,606.35 298.86,607.75 299.13,608.52 299.40,609.49 299.67,610.36 299.94,611.38 300.21,611.94 300.48,612.25 300.75,612.30 301.02,612.44 301.29,612.65 301.56,612.87 301.83,613.04 302.10,613.10" fill="none" stroke="#f2b01e" stroke-width="0.95" stroke-linejoin="round"/>
<rect x="376.3" y="526.3" width="81.69999999999999" height="87.0" fill="none" stroke="#111" stroke-width="1.2"/>
<text x="417" y="521.2" font-size="6.6" text-anchor="middle" fill="#222" textLength="40" lengthAdjust="spacingAndGlyphs" >TpoR Cys less</text>
<line x1="373.3" y1="613.3" x2="376.3" y2="613.3" stroke="#111" stroke-width="0.9" />
<text x="371.3" y="615.8" font-size="7.2" text-anchor="end" fill="#222" textLength="4.0" lengthAdjust="spacingAndGlyphs" >0</text>
<line x1="373.3" y1="596.64" x2="376.3" y2="596.64" stroke="#111" stroke-width="0.9" />
<text x="371.3" y="599.14" font-size="7.2" text-anchor="end" fill="#222" textLength="8.0" lengthAdjust="spacingAndGlyphs" >20</text>
<line x1="373.3" y1="579.98" x2="376.3" y2="579.98" stroke="#111" stroke-width="0.9" />
<text x="371.3" y="582.48" font-size="7.2" text-anchor="end" fill="#222" textLength="8.0" lengthAdjust="spacingAndGlyphs" >40</text>
<line x1="373.3" y1="563.3199999999999" x2="376.3" y2="563.3199999999999" stroke="#111" stroke-width="0.9" />
<text x="371.3" y="565.8199999999999" font-size="7.2" text-anchor="end" fill="#222" textLength="8.0" lengthAdjust="spacingAndGlyphs" >60</text>
<line x1="373.3" y1="546.66" x2="376.3" y2="546.66" stroke="#111" stroke-width="0.9" />
<text x="371.3" y="549.16" font-size="7.2" text-anchor="end" fill="#222" textLength="8.0" lengthAdjust="spacingAndGlyphs" >80</text>
<line x1="373.3" y1="530.0" x2="376.3" y2="530.0" stroke="#111" stroke-width="0.9" />
<text x="371.3" y="532.5" font-size="7.2" text-anchor="end" fill="#222" textLength="11.5" lengthAdjust="spacingAndGlyphs" >100</text>
<line x1="376.3" y1="604.9699999999999" x2="378.1" y2="604.9699999999999" stroke="#111" stroke-width="0.6" />
<line x1="376.3" y1="588.31" x2="378.1" y2="588.31" stroke="#111" stroke-width="0.6" />
<line x1="376.3" y1="571.65" x2="378.1" y2="571.65" stroke="#111" stroke-width="0.6" />
<line x1="376.3" y1="554.99" x2="378.1" y2="554.99" stroke="#111" stroke-width="0.6" />
<line x1="376.3" y1="538.3299999999999" x2="378.1" y2="538.3299999999999" stroke="#111" stroke-width="0.6" />
<line x1="376.3" y1="609.135" x2="377.3" y2="609.135" stroke="#111" stroke-width="0.5" />
<line x1="376.3" y1="600.805" x2="377.3" y2="600.805" stroke="#111" stroke-width="0.5" />
<line x1="376.3" y1="592.4749999999999" x2="377.3" y2="592.4749999999999" stroke="#111" stroke-width="0.5" />
<line x1="376.3" y1="584.145" x2="377.3" y2="584.145" stroke="#111" stroke-width="0.5" />
<line x1="376.3" y1="575.8149999999999" x2="377.3" y2="575.8149999999999" stroke="#111" stroke-width="0.5" />
<line x1="376.3" y1="567.485" x2="377.3" y2="567.485" stroke="#111" stroke-width="0.5" />
<line x1="376.3" y1="559.155" x2="377.3" y2="559.155" stroke="#111" stroke-width="0.5" />
<line x1="376.3" y1="550.825" x2="377.3" y2="550.825" stroke="#111" stroke-width="0.5" />
<line x1="376.3" y1="542.495" x2="377.3" y2="542.495" stroke="#111" stroke-width="0.5" />
<line x1="376.3" y1="534.165" x2="377.3" y2="534.165" stroke="#111" stroke-width="0.5" />
<line x1="379.7" y1="613.3" x2="379.7" y2="615.3" stroke="#111" stroke-width="0.9" />
<text x="375.4" y="627.3" font-size="8.6" fill="#333" textLength="6.2" lengthAdjust="spacingAndGlyphs">10</text>
<text x="381.4" y="623.8" font-size="4.6" fill="#333">0</text>
<line x1="383.92947143907895" y1="611.6999999999999" x2="383.92947143907895" y2="613.3" stroke="#111" stroke-width="0.5" />
<line x1="386.40355362881127" y1="611.6999999999999" x2="386.40355362881127" y2="613.3" stroke="#111" stroke-width="0.5" />
<line x1="388.15894287815786" y1="611.6999999999999" x2="388.15894287815786" y2="613.3" stroke="#111" stroke-width="0.5" />
<line x1="389.52052856092104" y1="611.6999999999999" x2="389.52052856092104" y2="613.3" stroke="#111" stroke-width="0.5" />
<line x1="390.6330250678902" y1="611.6999999999999" x2="390.6330250678902" y2="613.3" stroke="#111" stroke-width="0.5" />
<line x1="391.5736274622003" y1="611.6999999999999" x2="391.5736274622003" y2="613.3" stroke="#111" stroke-width="0.5" />
<line x1="392.3884143172368" y1="611.6999999999999" x2="392.3884143172368" y2="613.3" stroke="#111" stroke-width="0.5" />
<line x1="393.1071072576225" y1="611.6999999999999" x2="393.1071072576225" y2="613.3" stroke="#111" stroke-width="0.5" />
<line x1="393.75" y1="613.3" x2="393.75" y2="615.3" stroke="#111" stroke-width="0.9" />
<text x="389.45" y="627.3" font-size="8.6" fill="#333" textLength="6.2" lengthAdjust="spacingAndGlyphs">10</text>
<text x="395.45" y="623.8" font-size="4.6" fill="#333">1</text>
<line x1="397.97947143907896" y1="611.6999999999999" x2="397.97947143907896" y2="613.3" stroke="#111" stroke-width="0.5" />
<line x1="400.4535536288113" y1="611.6999999999999" x2="400.4535536288113" y2="613.3" stroke="#111" stroke-width="0.5" />
<line x1="402.20894287815787" y1="611.6999999999999" x2="402.20894287815787" y2="613.3" stroke="#111" stroke-width="0.5" />
<line x1="403.57052856092105" y1="611.6999999999999" x2="403.57052856092105" y2="613.3" stroke="#111" stroke-width="0.5" />
<line x1="404.6830250678902" y1="611.6999999999999" x2="404.6830250678902" y2="613.3" stroke="#111" stroke-width="0.5" />
<line x1="405.6236274622003" y1="611.6999999999999" x2="405.6236274622003" y2="613.3" stroke="#111" stroke-width="0.5" />
<line x1="406.43841431723683" y1="611.6999999999999" x2="406.43841431723683" y2="613.3" stroke="#111" stroke-width="0.5" />
<line x1="407.1571072576225" y1="611.6999999999999" x2="407.1571072576225" y2="613.3" stroke="#111" stroke-width="0.5" />
<line x1="407.8" y1="613.3" x2="407.8" y2="615.3" stroke="#111" stroke-width="0.9" />
<text x="403.5" y="627.3" font-size="8.6" fill="#333" textLength="6.2" lengthAdjust="spacingAndGlyphs">10</text>
<text x="409.5" y="623.8" font-size="4.6" fill="#333">2</text>
<line x1="412.029471439079" y1="611.6999999999999" x2="412.029471439079" y2="613.3" stroke="#111" stroke-width="0.5" />
<line x1="414.5035536288113" y1="611.6999999999999" x2="414.5035536288113" y2="613.3" stroke="#111" stroke-width="0.5" />
<line x1="416.2589428781579" y1="611.6999999999999" x2="416.2589428781579" y2="613.3" stroke="#111" stroke-width="0.5" />
<line x1="417.62052856092106" y1="611.6999999999999" x2="417.62052856092106" y2="613.3" stroke="#111" stroke-width="0.5" />
<line x1="418.7330250678902" y1="611.6999999999999" x2="418.7330250678902" y2="613.3" stroke="#111" stroke-width="0.5" />
<line x1="419.67362746220033" y1="611.6999999999999" x2="419.67362746220033" y2="613.3" stroke="#111" stroke-width="0.5" />
<line x1="420.48841431723685" y1="611.6999999999999" x2="420.48841431723685" y2="613.3" stroke="#111" stroke-width="0.5" />
<line x1="421.2071072576225" y1="611.6999999999999" x2="421.2071072576225" y2="613.3" stroke="#111" stroke-width="0.5" />
<line x1="421.85" y1="613.3" x2="421.85" y2="615.3" stroke="#111" stroke-width="0.9" />
<text x="417.55" y="627.3" font-size="8.6" fill="#333" textLength="6.2" lengthAdjust="spacingAndGlyphs">10</text>
<text x="423.55" y="623.8" font-size="4.6" fill="#333">3</text>
<line x1="426.079471439079" y1="611.6999999999999" x2="426.079471439079" y2="613.3" stroke="#111" stroke-width="0.5" />
<line x1="428.5535536288113" y1="611.6999999999999" x2="428.5535536288113" y2="613.3" stroke="#111" stroke-width="0.5" />
<line x1="430.3089428781579" y1="611.6999999999999" x2="430.3089428781579" y2="613.3" stroke="#111" stroke-width="0.5" />
<line x1="431.67052856092107" y1="611.6999999999999" x2="431.67052856092107" y2="613.3" stroke="#111" stroke-width="0.5" />
<line x1="432.7830250678902" y1="611.6999999999999" x2="432.7830250678902" y2="613.3" stroke="#111" stroke-width="0.5" />
<line x1="433.72362746220034" y1="611.6999999999999" x2="433.72362746220034" y2="613.3" stroke="#111" stroke-width="0.5" />
<line x1="434.53841431723686" y1="611.6999999999999" x2="434.53841431723686" y2="613.3" stroke="#111" stroke-width="0.5" />
<line x1="435.2571072576225" y1="611.6999999999999" x2="435.2571072576225" y2="613.3" stroke="#111" stroke-width="0.5" />
<line x1="435.9" y1="613.3" x2="435.9" y2="615.3" stroke="#111" stroke-width="0.9" />
<text x="431.59999999999997" y="627.3" font-size="8.6" fill="#333" textLength="6.2" lengthAdjust="spacingAndGlyphs">10</text>
<text x="437.59999999999997" y="623.8" font-size="4.6" fill="#333">4</text>
<line x1="440.12947143907894" y1="611.6999999999999" x2="440.12947143907894" y2="613.3" stroke="#111" stroke-width="0.5" />
<line x1="442.60355362881126" y1="611.6999999999999" x2="442.60355362881126" y2="613.3" stroke="#111" stroke-width="0.5" />
<line x1="444.35894287815785" y1="611.6999999999999" x2="444.35894287815785" y2="613.3" stroke="#111" stroke-width="0.5" />
<line x1="445.720528560921" y1="611.6999999999999" x2="445.720528560921" y2="613.3" stroke="#111" stroke-width="0.5" />
<line x1="446.83302506789016" y1="611.6999999999999" x2="446.83302506789016" y2="613.3" stroke="#111" stroke-width="0.5" />
<line x1="447.7736274622003" y1="611.6999999999999" x2="447.7736274622003" y2="613.3" stroke="#111" stroke-width="0.5" />
<line x1="448.5884143172368" y1="611.6999999999999" x2="448.5884143172368" y2="613.3" stroke="#111" stroke-width="0.5" />
<line x1="449.3071072576225" y1="611.6999999999999" x2="449.3071072576225" y2="613.3" stroke="#111" stroke-width="0.5" />
<line x1="449.95" y1="613.3" x2="449.95" y2="615.3" stroke="#111" stroke-width="0.9" />
<text x="445.65" y="627.3" font-size="8.6" fill="#333" textLength="6.2" lengthAdjust="spacingAndGlyphs">10</text>
<text x="451.65" y="623.8" font-size="4.6" fill="#333">5</text>
<text transform="translate(351.65,570.2) rotate(-90)" font-size="9.6" text-anchor="middle" fill="#222" textLength="85" lengthAdjust="spacingAndGlyphs">Normalized to mode</text>
<text x="417" y="641.8" font-size="10.4" text-anchor="middle" fill="#222" textLength="35" lengthAdjust="spacingAndGlyphs" >TpoR- PE</text>
<polyline points="385.32,613.30 385.50,613.29 385.68,613.25 385.86,613.19 386.04,613.10 386.22,612.99 386.40,612.86 386.58,612.70 386.77,612.53 386.95,612.34 387.13,612.13 387.31,611.91 387.49,611.68 387.67,611.53 387.85,611.07 388.03,610.09 388.21,610.76 388.39,610.42 388.57,610.02 388.75,610.58 388.93,609.69 389.11,609.24 389.29,608.70 389.47,609.91 389.66,609.31 389.84,609.58 390.02,608.01 390.20,608.13 390.38,609.34 390.56,607.39 390.74,607.39 390.92,607.99 391.10,608.00 391.28,608.67 391.46,608.52 391.64,606.91 391.82,607.09 392.00,605.94 392.18,604.82 392.37,604.11 392.55,602.03 392.73,600.79 392.91,598.67 393.09,597.97 393.27,596.39 393.45,595.36 393.63,593.78 393.81,593.01 393.99,592.29 394.17,589.88 394.35,589.06 394.53,588.69 394.71,588.43 394.89,588.87 395.07,588.87 395.26,588.64 395.44,588.46 395.62,585.88 395.80,584.91 395.98,581.87 396.16,580.28 396.34,576.38 396.52,573.69 396.70,572.45 396.88,569.19 397.06,565.16 397.24,563.72 397.42,560.79 397.60,560.53 397.78,560.30 397.96,558.90 398.15,558.37 398.33,558.71 398.51,557.98 398.69,556.02 398.87,552.96 399.05,551.35 399.23,550.43 399.41,547.91 399.59,545.96 399.77,543.91 399.95,540.50 400.13,540.09 400.31,538.01 400.49,537.32 400.67,537.35 400.86,536.14 401.04,536.86 401.22,535.03 401.40,535.33 401.58,534.34 401.76,534.90 401.94,535.43 402.12,535.12 402.30,536.92 402.48,539.61 402.66,540.24 402.84,543.34 403.02,544.52 403.20,544.83 403.38,546.06 403.56,547.46 403.75,546.10 403.93,549.08 404.11,551.34 404.29,553.40 404.47,557.91 404.65,561.86 404.83,566.18 405.01,569.72 405.19,571.76 405.37,574.69 405.55,575.29 405.73,576.09 405.91,576.58 406.09,577.07 406.27,580.26 406.46,582.91 406.64,585.53 406.82,590.25 407.00,593.57 407.18,594.99 407.36,597.56 407.54,600.37 407.72,601.34 407.90,600.44 408.08,600.80 408.26,603.64 408.44,603.87 408.62,605.84 408.80,608.04 408.98,609.58 409.16,610.74 409.35,610.97 409.53,609.45 409.71,611.43 409.89,611.15 410.07,612.22 410.25,612.79 410.43,613.17 410.61,613.30" fill="none" stroke="#6e3a7c" stroke-width="0.95" stroke-linejoin="round"/>
<polyline points="386.02,613.30 386.24,613.28 386.45,613.20 386.67,613.08 386.89,612.92 387.10,612.71 387.32,612.46 387.53,612.18 387.75,611.87 387.96,611.57 388.18,610.84 388.40,610.44 388.61,611.09 388.83,610.96 389.04,609.83 389.26,609.63 389.47,608.18 389.69,608.05 389.91,607.88 390.12,607.65 390.34,607.16 390.55,607.94 390.77,607.14 390.99,607.53 391.20,605.93 391.42,607.54 391.63,606.00 391.85,607.33 392.06,605.61 392.28,605.49 392.50,604.22 392.71,601.94 392.93,601.94 393.14,600.01 393.36,596.31 393.57,595.03 393.79,593.73 394.01,589.81 394.22,587.83 394.44,587.55 394.65,585.15 394.87,584.17 395.08,582.50 395.30,580.87 395.52,581.08 395.73,579.64 395.95,580.80 396.16,579.79 396.38,576.94 396.60,575.50 396.81,572.62 397.03,569.01 397.24,565.78 397.46,562.47 397.67,559.87 397.89,555.55 398.11,552.67 398.32,550.95 398.54,550.65 398.75,551.08 398.97,550.70 399.18,549.28 399.40,548.19 399.62,547.89 399.83,546.02 400.05,543.99 400.26,541.88 400.48,539.52 400.69,538.52 400.91,538.08 401.13,535.41 401.34,535.48 401.56,534.98 401.77,535.64 401.99,535.61 402.21,536.37 402.42,536.52 402.64,538.97 402.85,539.31 403.07,541.32 403.28,541.50 403.50,543.92 403.72,544.35 403.93,544.87 404.15,544.65 404.36,545.94 404.58,545.77 404.79,547.66 405.01,549.55 405.23,551.73 405.44,553.72 405.66,557.84 405.87,560.08 406.09,564.70 406.30,565.90 406.52,569.24 406.74,571.20 406.95,570.98 407.17,570.85 407.38,573.07 407.60,573.43 407.82,573.76 408.03,576.35 408.25,578.61 408.46,581.39 408.68,583.81 408.89,585.22 409.11,587.03 409.33,589.44 409.54,592.66 409.76,595.56 409.97,596.55 410.19,596.80 410.40,597.42 410.62,598.03 410.84,598.97 411.05,598.70 411.27,599.33 411.48,599.74 411.70,601.33 411.91,600.95 412.13,602.13 412.35,604.71 412.56,605.57 412.78,605.49 412.99,607.68 413.21,607.24 413.43,608.84 413.64,609.04 413.86,609.39 414.07,610.53 414.29,610.45 414.50,610.72 414.72,610.22 414.94,610.66 415.15,612.31 415.37,612.10 415.58,612.58 415.80,612.97 416.01,613.21 416.23,613.30" fill="none" stroke="#f2b01e" stroke-width="0.95" stroke-linejoin="round"/>
<polyline points="386.02,613.30 386.24,613.28 386.45,613.22 386.67,613.11 386.89,612.97 387.10,612.79 387.32,612.57 387.53,612.32 387.75,612.04 387.96,611.74 388.18,611.91 388.40,610.72 388.61,610.38 388.83,609.69 389.04,610.67 389.26,610.23 389.47,610.07 389.69,609.59 389.91,608.27 390.12,609.20 390.34,608.15 390.55,608.56 390.77,608.22 390.99,607.80 391.20,606.88 391.42,607.28 391.63,608.44 391.85,607.77 392.06,607.54 392.28,605.30 392.50,604.33 392.71,602.97 392.93,601.34 393.14,599.71 393.36,597.37 393.57,595.66 393.79,594.66 394.01,591.41 394.22,590.14 394.44,587.72 394.65,586.38 394.87,585.14 395.08,584.00 395.30,582.88 395.52,582.43 395.73,582.47 395.95,580.93 396.16,580.23 396.38,578.33 396.60,576.72 396.81,574.23 397.03,570.68 397.24,568.53 397.46,564.06 397.67,561.31 397.89,559.00 398.11,556.62 398.32,554.33 398.54,553.97 398.75,553.38 398.97,552.76 399.18,552.50 399.40,552.04 399.62,550.05 399.83,549.06 400.05,547.42 400.26,545.77 400.48,543.69 400.69,542.60 400.91,539.92 401.13,538.00 401.34,538.08 401.56,536.68 401.77,535.86 401.99,537.60 402.21,537.65 402.42,536.81 402.64,537.44 402.85,538.68 403.07,540.57 403.28,541.00 403.50,540.96 403.72,541.66 403.93,542.36 404.15,543.86 404.36,542.67 404.58,544.28 404.79,544.98 405.01,548.17 405.23,549.07 405.44,552.76 405.66,555.69 405.87,559.91 406.09,562.14 406.30,564.92 406.52,567.12 406.74,569.19 406.95,569.35 407.17,570.33 407.38,570.85 407.60,572.06 407.82,572.43 408.03,575.41 408.25,577.38 408.46,580.15 408.68,581.64 408.89,584.54 409.11,587.27 409.33,590.87 409.54,592.43 409.76,594.69 409.97,596.88 410.19,598.31 410.40,597.07 410.62,599.06 410.84,598.83 411.05,599.25 411.27,599.16 411.48,600.96 411.70,601.10 411.91,602.36 412.13,602.58 412.35,605.43 412.56,605.97 412.78,606.81 412.99,606.94 413.21,608.80 413.43,609.68 413.64,609.89 413.86,611.03 414.07,611.73 414.29,610.84 414.50,610.18 414.72,610.79 414.94,612.09 415.15,612.00 415.37,612.40 415.58,612.76 415.80,613.05 416.01,613.24 416.23,613.30" fill="none" stroke="#62b04a" stroke-width="0.95" stroke-linejoin="round"/>
<polyline points="386.72,613.30 386.94,613.28 387.15,613.23 387.36,613.15 387.57,613.03 387.78,612.88 387.99,612.70 388.20,612.50 388.41,612.27 388.62,612.02 388.83,611.76 389.04,612.27 389.25,610.79 389.46,610.60 389.68,609.72 389.89,610.77 390.10,610.52 390.31,609.29 390.52,609.18 390.73,609.65 390.94,608.67 391.15,609.05 391.36,608.12 391.57,609.29 391.78,608.98 391.99,607.55 392.20,608.59 392.42,608.76 392.63,607.43 392.84,607.24 393.05,607.38 393.26,605.51 393.47,603.98 393.68,603.47 393.89,600.83 394.10,600.10 394.31,597.81 394.52,596.42 394.73,594.30 394.94,590.94 395.15,590.38 395.37,587.64 395.58,587.37 395.79,585.88 396.00,584.44 396.21,584.18 396.42,584.99 396.63,583.92 396.84,583.20 397.05,582.74 397.26,580.89 397.47,576.72 397.68,574.38 397.89,571.64 398.11,567.58 398.32,564.51 398.53,559.97 398.74,557.50 398.95,555.69 399.16,552.23 399.37,552.32 399.58,551.31 399.79,551.67 400.00,549.74 400.21,550.08 400.42,547.98 400.63,547.27 400.85,544.70 401.06,542.36 401.27,540.71 401.48,538.97 401.69,537.18 401.90,535.79 402.11,534.31 402.32,534.53 402.53,533.41 402.74,533.97 402.95,533.30 403.16,534.19 403.37,537.35 403.58,538.89 403.80,539.59 404.01,541.68 404.22,544.47 404.43,544.51 404.64,545.07 404.85,546.70 405.06,547.01 405.27,547.17 405.48,547.75 405.69,551.04 405.90,553.42 406.11,556.49 406.32,558.69 406.54,562.13 406.75,565.58 406.96,568.05 407.17,571.05 407.38,572.24 407.59,571.98 407.80,573.14 408.01,573.99 408.22,573.41 408.43,575.74 408.64,577.54 408.85,579.91 409.06,581.92 409.28,584.24 409.49,586.74 409.70,588.04 409.91,591.78 410.12,594.18 410.33,595.61 410.54,596.82 410.75,599.52 410.96,599.61 411.17,600.96 411.38,600.70 411.59,600.86 411.80,600.66 412.01,601.75 412.23,603.18 412.44,603.58 412.65,605.68 412.86,606.82 413.07,606.80 413.28,608.65 413.49,609.06 413.70,610.63 413.91,609.83 414.12,610.58 414.33,611.37 414.54,610.17 414.75,611.38 414.97,611.66 415.18,612.05 415.39,612.44 415.60,612.78 415.81,613.06 416.02,613.24 416.23,613.30" fill="none" stroke="#c0303c" stroke-width="0.95" stroke-linejoin="round"/>
<polyline points="388.13,613.30 388.33,613.28 388.53,613.24 388.73,613.16 388.93,613.05 389.13,612.92 389.33,612.75 389.53,612.57 389.74,612.36 389.94,612.13 390.14,611.89 390.34,610.70 390.54,612.33 390.74,610.61 390.94,611.48 391.14,609.55 391.34,611.21 391.54,609.22 391.74,609.35 391.94,608.76 392.14,608.24 392.34,609.55 392.55,609.17 392.75,608.27 392.95,608.99 393.15,608.92 393.35,608.91 393.55,607.60 393.75,607.55 393.95,607.57 394.15,608.32 394.35,606.26 394.55,606.18 394.75,605.61 394.95,603.84 395.15,602.42 395.36,601.48 395.56,598.78 395.76,597.41 395.96,595.18 396.16,592.68 396.36,591.52 396.56,590.37 396.76,587.97 396.96,586.38 397.16,586.26 397.36,584.45 397.56,585.64 397.76,585.00 397.96,584.80 398.17,582.85 398.37,582.11 398.57,580.07 398.77,578.30 398.97,574.72 399.17,570.42 399.37,568.28 399.57,564.55 399.77,561.16 399.97,557.16 400.17,553.78 400.37,552.36 400.57,551.44 400.77,550.82 400.98,551.03 401.18,548.26 401.38,547.58 401.58,545.57 401.78,543.11 401.98,540.03 402.18,539.53 402.38,537.59 402.58,538.64 402.78,538.34 402.98,538.91 403.18,537.00 403.38,536.93 403.58,537.23 403.79,537.58 403.99,536.46 404.19,536.33 404.39,535.07 404.59,534.60 404.79,534.75 404.99,535.50 405.19,535.92 405.39,534.38 405.59,535.29 405.79,538.66 405.99,540.36 406.19,543.09 406.39,544.77 406.60,548.97 406.80,550.66 407.00,550.02 407.20,550.78 407.40,551.72 407.60,552.50 407.80,554.91 408.00,557.26 408.20,561.08 408.40,564.60 408.60,568.02 408.80,570.55 409.00,572.86 409.20,575.95 409.41,578.05 409.61,578.92 409.81,579.48 410.01,579.87 410.21,581.06 410.41,581.25 410.61,583.04 410.81,585.04 411.01,587.56 411.21,592.05 411.41,593.54 411.61,596.91 411.81,599.35 412.01,601.27 412.22,603.77 412.42,604.77 412.62,603.92 412.82,605.35 413.02,604.47 413.22,605.49 413.42,607.01 413.62,607.92 413.82,608.34 414.02,609.12 414.22,610.70 414.42,611.94 414.62,612.14 414.82,611.63 415.03,611.72 415.23,611.95 415.43,612.28 415.63,612.65 415.83,612.99 416.03,613.22 416.23,613.30" fill="none" stroke="#3a5aa0" stroke-width="0.95" stroke-linejoin="round"/>
<defs>
<linearGradient id="bg" x1="0" x2="1" y1="0" y2="0"><stop offset="0" stop-color="#4f86cc"/><stop offset="0.45" stop-color="#8ab4e8"/><stop offset="1" stop-color="#4f86cc"/></linearGradient>
<linearGradient id="bg2" x1="0" x2="1" y1="0" y2="0"><stop offset="0" stop-color="#5a8fd2"/><stop offset="0.5" stop-color="#8cb6e6"/><stop offset="1" stop-color="#5a8fd2"/></linearGradient>
<radialGradient id="vg" cx="0.45" cy="0.45" r="0.6"><stop offset="0" stop-color="#e6e6e6"/><stop offset="1" stop-color="#d2d2d2"/></radialGradient>
</defs>
<ellipse cx="0" cy="0" rx="3.9" ry="17.4" transform="translate(49.8,722.3) rotate(-4)" fill="url(#bg)" stroke="#3f72b5" stroke-width="0.5" />
<ellipse cx="0" cy="0" rx="4.0" ry="9.4" transform="translate(47.2,695.2) rotate(-13)" fill="url(#bg)" stroke="#3f72b5" stroke-width="0.5" />
<ellipse cx="0" cy="0" rx="3.6" ry="9.3" transform="translate(43.5,677.2) rotate(-15)" fill="url(#bg)" stroke="#3f72b5" stroke-width="0.5" />
<clipPath id="c1"><ellipse cx="0" cy="0" rx="3.6" ry="9.3" transform="translate(43.5,677.2) rotate(-15)"/></clipPath><g clip-path="url(#c1)"><g transform="translate(43.5,677.2) rotate(-15)"><rect x="-5" y="-10" width="10" height="4.2" fill="#111"/><rect x="-5" y="-5.8" width="10" height="5.4" fill="#b98d5e"/></g></g>
<ellipse cx="0" cy="0" rx="3.6" ry="9.3" transform="translate(43.5,677.2) rotate(-15)" fill="none" stroke="#3f72b5" stroke-width="0.5" />
<ellipse cx="0" cy="0" rx="3.9" ry="17.4" transform="translate(60.1,722.3) rotate(4)" fill="url(#bg)" stroke="#3f72b5" stroke-width="0.5" />
<ellipse cx="0" cy="0" rx="4.0" ry="9.4" transform="translate(63.4,695.2) rotate(13)" fill="url(#bg)" stroke="#3f72b5" stroke-width="0.5" />
<ellipse cx="0" cy="0" rx="3.6" ry="9.3" transform="translate(66.8,677.3) rotate(15)" fill="url(#bg)" stroke="#3f72b5" stroke-width="0.5" />
<clipPath id="c2"><ellipse cx="0" cy="0" rx="3.6" ry="9.3" transform="translate(66.8,677.3) rotate(15)"/></clipPath><g clip-path="url(#c2)"><g transform="translate(66.8,677.3) rotate(15)"><rect x="-5" y="-10" width="10" height="4.2" fill="#111"/><rect x="-5" y="-5.8" width="10" height="5.4" fill="#b98d5e"/></g></g>
<ellipse cx="0" cy="0" rx="3.6" ry="9.3" transform="translate(66.8,677.3) rotate(15)" fill="none" stroke="#3f72b5" stroke-width="0.5" />
<line x1="23.7" y1="704.4" x2="83.2" y2="704.4" stroke="#b57545" stroke-width="1.8" />
<text x="75.4" y="673.6" font-size="6.9" text-anchor="start" fill="#222" textLength="48" lengthAdjust="spacingAndGlyphs" >Asparagine 117</text>
<text x="75.4" y="682.4" font-size="6.9" text-anchor="start" fill="#222" textLength="59.8" lengthAdjust="spacingAndGlyphs" >Hydrophobic patch</text>
<path d="M140.2 665.8 Q143 665.8 143 668 V673 Q143 674.5 145 674.6 Q143 674.7 143 676 V681 Q143 683.3 140.2 683.3" fill="none" stroke="#222" stroke-width="0.9"/>
<line x1="151" y1="674.7" x2="175" y2="674.7" stroke="#111" stroke-width="1" />
<path d="M149.3 674.7 L155 671.8 L153.6 674.7 L155 677.6 Z M176.8 674.7 L171.1 671.8 L172.5 674.7 L171.1 677.6 Z" fill="#111" stroke="#111" stroke-width="0.6"/>
<path d="M189.6 679.5 C184 681 182 684.5 184.5 687 C187 689 190.5 689.5 191.5 693 C192.3 696 192.5 699 192.5 702.2" fill="none" stroke="#c4522c" stroke-width="2.9" stroke-linecap="round"/>
<path d="M189.5 680.5 C188 676 188.5 668 192.5 666 C196 664.5 198.5 668 198.3 673 C198 678 196 681 192 681 Z" fill="#f0c294" stroke="#111" stroke-width="1"/>
<text x="23.6" y="770.2" font-size="6.7" text-anchor="start" fill="#222" textLength="159.2" lengthAdjust="spacingAndGlyphs" >1- TSA stabilization and incomplete early activation</text>
<text x="23.6" y="787.8" font-size="6.7" text-anchor="start" fill="#222" textLength="140.2" lengthAdjust="spacingAndGlyphs" >2- Cell surface traffic and complete activation</text>
<line x1="297.5" y1="666.8" x2="494.7" y2="666" stroke="#a8652e" stroke-width="2" />
<text x="458.9" y="662.5" font-size="7" text-anchor="start" fill="#222" textLength="33.5" lengthAdjust="spacingAndGlyphs" >Membrane</text>
<path d="M395 796 C398 797 400 797.5 403 797.8 M428.3 790.5 C431.5 782 432.5 770 432.5 758 C432.5 742 431 726 428 717 C424 706 418 699 414 696.5 M393 683 C385 677 375 673.5 366 672.3" fill="none" stroke="#4a3a8c" stroke-width="2.3"/>
<path d="M361.2 672 L372 669.8 L368.8 673.6 L370.8 679.5 Z" fill="#4a3a8c" stroke="#4a3a8c" stroke-width="0.8" stroke-linejoin="round"/>
<path d="M291 806.5 C297 797 306 791.5 318 788.5 C330 786.5 342 788 351 792 C359 796 364 801 368 806.5 Z" fill="#f2f2f2"/>
<path d="M291 806.5 C297 797 306 791.5 318 788.5 C330 786.5 342 788 351 792 C359 796 364 801 368 806.5" fill="none" stroke="#222" stroke-width="0.85" stroke-dasharray="2.4,1.5"/>
<line x1="291" y1="806.8" x2="370" y2="806.8" stroke="#e0e0e0" stroke-width="1" />
<path d="M308 769.5 C311 766.5 318 766.5 330 766.8 C345 767 360 770 372 776 C380 781 384 790 385.3 798.5 C385.8 804 384 806.8 379.5 807 C375 807 373.8 802 371.5 797 C368 790 360 786 350 784 C335 781 318 780.5 310 779.2 C305.5 778 305 772 308 769.5 Z" fill="#cdcdcd" stroke="#111" stroke-width="0.95"/>
<path d="M310.5 783.6 C320 783 333 783.5 340 785 C343 786.3 342.5 789 339.5 789.6 C330 790.5 318 790 310.5 789.6 C306.5 789.2 306.5 784 310.5 783.6 Z" fill="#cdcdcd" stroke="#111" stroke-width="0.85"/>
<path d="M356 793 C358 791 361.5 792 364 795 C367 798 369.5 802 370.5 805 C371 807.5 368 808 366 806 C362 802 358 799 356.5 796.5 C355.5 795 355.5 793.8 356 793 Z" fill="#cdcdcd" stroke="#111" stroke-width="0.85"/>
<text x="300.9" y="805.2" font-size="7" text-anchor="start" fill="#222" textLength="24.3" lengthAdjust="spacingAndGlyphs" >Nucleus</text>
<text x="375" y="803.3" font-size="6.6" text-anchor="start" fill="#222" textLength="8.4" lengthAdjust="spacingAndGlyphs" >ER</text>
<g transform="translate(324.1,773.3) rotate(0) scale(1.0)"><path d="M-2.4 -0.5 C-4 -1.5 -6 -0.5 -8 -1" stroke="#d04a25" stroke-width="0.9" fill="none"/><ellipse cx="0" cy="0" rx="2.5" ry="1.5" fill="#f2c294" stroke="#111" stroke-width="0.8"/></g>
<g transform="translate(370.6,788) rotate(60) scale(1.0)"><path d="M2.2 0.6 C3.5 2.5 5 4 7 4.5" stroke="#d04a25" stroke-width="0.9" fill="none"/><ellipse cx="0" cy="0" rx="2.5" ry="1.5" fill="#f2c294" stroke="#111" stroke-width="0.8"/></g>
<path d="M414 718.6 C425 719 437 718.3 447.9 716.4 C458 714.8 466 713.2 474 712 A2.7 2.7 0 1 1 474.6 715.6 C470 719 465 721.2 458.4 723 C450 725 440 727 437.3 727.2 C430 728.2 424 728.6 420.4 728.3 C417 728.2 414 727.5 413.2 723.6 A2.7 2.7 0 1 1 413.2 720.2 C413.4 719.2 413.7 718.7 414 718.6 Z" fill="#c6c6c6" stroke="#111" stroke-width="0.95"/>
<path d="M399.2 749.4 C398.5 740 401 733 406 731.4 C420 730.8 440 730.2 456 727 C470 724 480 717 486 714 C490 712 495 711 497.5 714.5 C500 718 498 723 494.4 726 C486 733 472 740 458.4 745.2 C445 748.5 425 749.8 399.2 749.4 Z" fill="#c6c6c6" stroke="#111" stroke-width="0.95"/>
<path d="M412.3 751 C425 750.8 450 749.5 469 746.2 C478 744 485 742 491.8 740.4 A3.1 3.1 0 1 1 492.3 744.4 C485 749 470 754 458.4 757.9 C445 762 430 765 416.1 765.3 C413 765 411.5 762 411.4 756.5 A3.1 3.1 0 1 1 411.4 752.9 C411.6 752 411.9 751.2 412.3 751 Z" fill="#c6c6c6" stroke="#111" stroke-width="0.95"/>
<text x="423.7" y="738.2" font-size="6.6" text-anchor="start" fill="#333" textLength="13.3" lengthAdjust="spacingAndGlyphs" >Golgi</text>
<text x="423.7" y="745.8" font-size="6.6" text-anchor="start" fill="#333" textLength="25.8" lengthAdjust="spacingAndGlyphs" >apparatus</text>
<ellipse cx="0" cy="0" rx="13.7" ry="11" transform="translate(406,687.3) rotate(-10)" fill="url(#vg)" stroke="#111" stroke-width="1.15" />
<ellipse cx="0" cy="0" rx="13.2" ry="11.8" transform="translate(415.5,794.8) rotate(0)" fill="url(#vg)" stroke="#111" stroke-width="1.15" />
<text x="398" y="675" font-size="7" text-anchor="start" fill="#222" textLength="21" lengthAdjust="spacingAndGlyphs" >Vesicle</text>
<g transform="translate(351.8,655.5) rotate(0) scale(1.0)"><ellipse cx="0" cy="0" rx="1.35" ry="6" transform="translate(-2.3,6) rotate(-13)" fill="url(#bg2)" stroke="#4a7cc0" stroke-width="0.35"/><ellipse cx="0" cy="0" rx="1.25" ry="6" transform="translate(-1.1,17.2) rotate(-3)" fill="url(#bg2)" stroke="#4a7cc0" stroke-width="0.35"/><ellipse cx="0" cy="0" rx="1.35" ry="6" transform="translate(2.3,6) rotate(13)" fill="url(#bg2)" stroke="#4a7cc0" stroke-width="0.35"/><ellipse cx="0" cy="0" rx="1.25" ry="6" transform="translate(1.1,17.2) rotate(3)" fill="url(#bg2)" stroke="#4a7cc0" stroke-width="0.35"/></g>
<g transform="translate(351.8,656.5) rotate(0) scale(1.0)"><path d="M0 -1 V-3.5 M0 -3.5 L-1.6 -5.5 M0 -3.5 L1.6 -5.5" stroke="#d04a25" stroke-width="0.9" fill="none"/><ellipse cx="-2.6" cy="1" rx="1.6" ry="2.2" fill="#f2c294" stroke="#111" stroke-width="0.8"/><ellipse cx="2.6" cy="1" rx="1.6" ry="2.2" fill="#f2c294" stroke="#111" stroke-width="0.8"/></g>
<g transform="translate(406.5,688.5) rotate(46) scale(1.0)"><ellipse cx="0" cy="0" rx="1.35" ry="6" transform="translate(-2.3,6) rotate(-13)" fill="url(#bg2)" stroke="#4a7cc0" stroke-width="0.35"/><ellipse cx="0" cy="0" rx="1.25" ry="6" transform="translate(-1.1,17.2) rotate(-3)" fill="url(#bg2)" stroke="#4a7cc0" stroke-width="0.35"/><ellipse cx="0" cy="0" rx="1.35" ry="6" transform="translate(2.3,6) rotate(13)" fill="url(#bg2)" stroke="#4a7cc0" stroke-width="0.35"/><ellipse cx="0" cy="0" rx="1.25" ry="6" transform="translate(1.1,17.2) rotate(3)" fill="url(#bg2)" stroke="#4a7cc0" stroke-width="0.35"/></g>
<g transform="translate(406.5,689.5) rotate(46) scale(1.0)"><path d="M0 -1 V-3.5 M0 -3.5 L-1.6 -5.5 M0 -3.5 L1.6 -5.5" stroke="#d04a25" stroke-width="0.9" fill="none"/><ellipse cx="-2.6" cy="1" rx="1.6" ry="2.2" fill="#f2c294" stroke="#111" stroke-width="0.8"/><ellipse cx="2.6" cy="1" rx="1.6" ry="2.2" fill="#f2c294" stroke="#111" stroke-width="0.8"/></g>
<g transform="translate(413.8,739.8) rotate(108) scale(1.0)"><ellipse cx="0" cy="0" rx="1.35" ry="6" transform="translate(-2.3,6) rotate(-13)" fill="url(#bg2)" stroke="#4a7cc0" stroke-width="0.35"/><ellipse cx="0" cy="0" rx="1.25" ry="6" transform="translate(-1.1,17.2) rotate(-3)" fill="url(#bg2)" stroke="#4a7cc0" stroke-width="0.35"/><ellipse cx="0" cy="0" rx="1.35" ry="6" transform="translate(2.3,6) rotate(13)" fill="url(#bg2)" stroke="#4a7cc0" stroke-width="0.35"/><ellipse cx="0" cy="0" rx="1.25" ry="6" transform="translate(1.1,17.2) rotate(3)" fill="url(#bg2)" stroke="#4a7cc0" stroke-width="0.35"/></g>
<g transform="translate(413.8,740.8) rotate(108) scale(1.0)"><path d="M0 -1 V-3.5 M0 -3.5 L-1.6 -5.5 M0 -3.5 L1.6 -5.5" stroke="#d04a25" stroke-width="0.9" fill="none"/><ellipse cx="-2.6" cy="1" rx="1.6" ry="2.2" fill="#f2c294" stroke="#111" stroke-width="0.8"/><ellipse cx="2.6" cy="1" rx="1.6" ry="2.2" fill="#f2c294" stroke="#111" stroke-width="0.8"/></g>
<g transform="translate(415,793.8) rotate(124) scale(1.0)"><ellipse cx="0" cy="0" rx="1.35" ry="6" transform="translate(-2.3,6) rotate(-13)" fill="url(#bg2)" stroke="#4a7cc0" stroke-width="0.35"/><ellipse cx="0" cy="0" rx="1.25" ry="6" transform="translate(-1.1,17.2) rotate(-3)" fill="url(#bg2)" stroke="#4a7cc0" stroke-width="0.35"/><ellipse cx="0" cy="0" rx="1.35" ry="6" transform="translate(2.3,6) rotate(13)" fill="url(#bg2)" stroke="#4a7cc0" stroke-width="0.35"/><ellipse cx="0" cy="0" rx="1.25" ry="6" transform="translate(1.1,17.2) rotate(3)" fill="url(#bg2)" stroke="#4a7cc0" stroke-width="0.35"/></g>
<g transform="translate(415,794.8) rotate(124) scale(1.0)"><path d="M0 -1 V-3.5 M0 -3.5 L-1.6 -5.5 M0 -3.5 L1.6 -5.5" stroke="#d04a25" stroke-width="0.9" fill="none"/><ellipse cx="-2.6" cy="1" rx="1.6" ry="2.2" fill="#f2c294" stroke="#111" stroke-width="0.8"/><ellipse cx="2.6" cy="1" rx="1.6" ry="2.2" fill="#f2c294" stroke="#111" stroke-width="0.8"/></g>
<g transform="translate(339.5,779) rotate(183) scale(0.95)"><ellipse cx="0" cy="0" rx="1.35" ry="6" transform="translate(-2.3,6) rotate(-13)" fill="url(#bg2)" stroke="#4a7cc0" stroke-width="0.35"/><ellipse cx="0" cy="0" rx="1.25" ry="6" transform="translate(-1.1,17.2) rotate(-3)" fill="url(#bg2)" stroke="#4a7cc0" stroke-width="0.35"/><ellipse cx="0" cy="0" rx="1.35" ry="6" transform="translate(2.3,6) rotate(13)" fill="url(#bg2)" stroke="#4a7cc0" stroke-width="0.35"/><ellipse cx="0" cy="0" rx="1.25" ry="6" transform="translate(1.1,17.2) rotate(3)" fill="url(#bg2)" stroke="#4a7cc0" stroke-width="0.35"/></g>
<g transform="translate(357,784.5) rotate(201) scale(0.95)"><ellipse cx="0" cy="0" rx="1.35" ry="6" transform="translate(-2.3,6) rotate(-13)" fill="url(#bg2)" stroke="#4a7cc0" stroke-width="0.35"/><ellipse cx="0" cy="0" rx="1.25" ry="6" transform="translate(-1.1,17.2) rotate(-3)" fill="url(#bg2)" stroke="#4a7cc0" stroke-width="0.35"/><ellipse cx="0" cy="0" rx="1.35" ry="6" transform="translate(2.3,6) rotate(13)" fill="url(#bg2)" stroke="#4a7cc0" stroke-width="0.35"/><ellipse cx="0" cy="0" rx="1.25" ry="6" transform="translate(1.1,17.2) rotate(3)" fill="url(#bg2)" stroke="#4a7cc0" stroke-width="0.35"/></g>
<g transform="translate(357,785.5) rotate(201) scale(0.95)"><path d="M0 -1 V-3.5 M0 -3.5 L-1.6 -5.5 M0 -3.5 L1.6 -5.5" stroke="#d04a25" stroke-width="0.9" fill="none"/><ellipse cx="-2.6" cy="1" rx="1.6" ry="2.2" fill="#f2c294" stroke="#111" stroke-width="0.8"/><ellipse cx="2.6" cy="1" rx="1.6" ry="2.2" fill="#f2c294" stroke="#111" stroke-width="0.8"/></g>
<g transform="translate(258.3,703.3) rotate(0) scale(0.95)"><ellipse cx="0" cy="0" rx="1.35" ry="6" transform="translate(-2.3,6) rotate(-13)" fill="url(#bg2)" stroke="#4a7cc0" stroke-width="0.35"/><ellipse cx="0" cy="0" rx="1.25" ry="6" transform="translate(-1.1,17.2) rotate(-3)" fill="url(#bg2)" stroke="#4a7cc0" stroke-width="0.35"/><ellipse cx="0" cy="0" rx="1.35" ry="6" transform="translate(2.3,6) rotate(13)" fill="url(#bg2)" stroke="#4a7cc0" stroke-width="0.35"/><ellipse cx="0" cy="0" rx="1.25" ry="6" transform="translate(1.1,17.2) rotate(3)" fill="url(#bg2)" stroke="#4a7cc0" stroke-width="0.35"/></g>
<text x="267.2" y="717.6" font-size="7.2" text-anchor="start" fill="#222" textLength="19" lengthAdjust="spacingAndGlyphs" >:TpoR</text>
<g transform="translate(256,737.5) rotate(0) scale(1.0)"><path d="M2.4 -0.6 C4 -1.5 5.5 -2 7.5 -2.8" stroke="#d04a25" stroke-width="0.9" fill="none"/><ellipse cx="0" cy="0" rx="2.5" ry="1.5" fill="#f2c294" stroke="#111" stroke-width="0.8"/></g>
<text x="267.2" y="739.3" font-size="7.2" text-anchor="start" fill="#222" textLength="19.3" lengthAdjust="spacingAndGlyphs" >:CALR</text>
<text x="267.2" y="748.2" font-size="7.2" text-anchor="start" fill="#222" textLength="22.6" lengthAdjust="spacingAndGlyphs" >mutant</text>
<text x="313.8" y="725" font-size="7" text-anchor="start" fill="#222" textLength="27.2" lengthAdjust="spacingAndGlyphs" >JAK-STAT</text>
<text x="313.8" y="734" font-size="7" text-anchor="start" fill="#222" textLength="30.4" lengthAdjust="spacingAndGlyphs" >activation</text>
<line x1="352.3" y1="683.5" x2="344.8" y2="707.5" stroke="#111" stroke-width="1.3" />
<text x="337.5" y="682.5" font-size="7" text-anchor="middle" fill="#222" >2</text>
<line x1="391.3" y1="704.6" x2="359.5223094161078" y2="715.6568950798747" stroke="#111" stroke-width="1.6" stroke-dasharray="1.7,1.7"/>
<path d="M354.8 717.3 L359.7 710.7 L360.1 715.5 L362.7 719.4 Z" fill="#111" stroke="#111" stroke-width="0.5" stroke-linejoin="round"/>
<line x1="383.7" y1="732.7" x2="359.0863298632276" y2="727.3600851228697" stroke="#111" stroke-width="1.6" stroke-dasharray="1.7,1.7"/>
<path d="M354.2 726.3 L361.8 723.2 L359.7 727.5 L359.8 732.3 Z" fill="#111" stroke="#111" stroke-width="0.5" stroke-linejoin="round"/>
<line x1="377.9" y1="760" x2="357.2743593718256" y2="742.0793614214222" stroke="#111" stroke-width="1.6" stroke-dasharray="1.7,1.7"/>
<path d="M353.5 738.8 L361.6 739.7 L357.7 742.5 L355.6 746.7 Z" fill="#111" stroke="#111" stroke-width="0.5" stroke-linejoin="round"/>
<text x="371.2" y="744.5" font-size="7" text-anchor="middle" fill="#222" >1</text>
<path d="M343.3 712.3 L340.9 704.5 L345.0 707.0 L349.7 707.2 Z" fill="#111" stroke="#111" stroke-width="0.5" stroke-linejoin="round"/>
<rect x="0" y="0" width="520" height="1.3" fill="#000"/>
<rect x="0" y="0" width="1.4" height="822" fill="#000"/>
<rect x="518.6" y="0" width="1.4" height="822" fill="#000"/>
<rect x="0" y="820" width="520" height="2" fill="#555"/>
</svg></body></html>
